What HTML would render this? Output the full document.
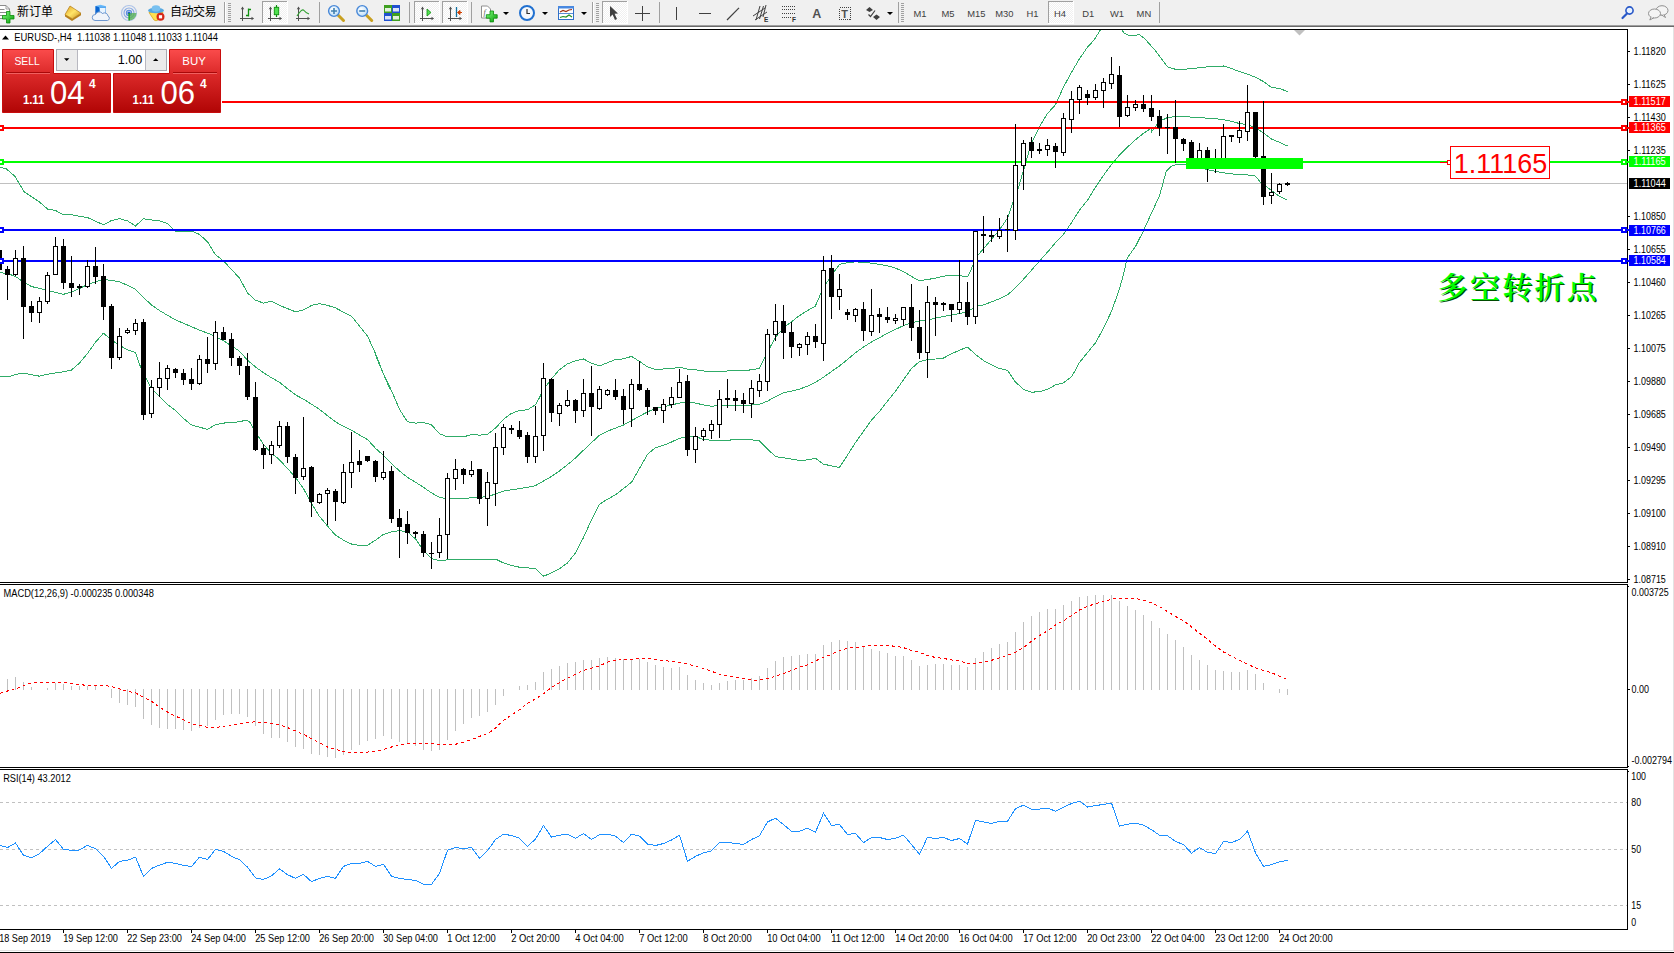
<!DOCTYPE html>
<html><head><meta charset="utf-8"><title>EURUSD H4</title>
<style>
html,body{margin:0;padding:0}
body{width:1674px;height:953px;overflow:hidden;background:#fff;position:relative;font-family:"Liberation Sans","Noto Sans CJK SC",sans-serif}
#tb{position:absolute;left:0;top:0;width:1674px;height:26px;background:#f0f0f0;border-bottom:1px solid #a0a0a0}
</style></head><body>
<svg width="1674" height="29" viewBox="0 0 1674 29" style="position:absolute;left:0;top:0">
<defs><pattern id="chk" width="2" height="2" patternUnits="userSpaceOnUse"><rect width="2" height="2" fill="#f0f0f0"/><rect width="1" height="1" fill="#fff"/><rect x="1" y="1" width="1" height="1" fill="#fff"/></pattern><linearGradient id="gGreen" x1="0" y1="0" x2="1" y2="1"><stop offset="0" stop-color="#7dff7d"/><stop offset="1" stop-color="#0a9a0a"/></linearGradient><linearGradient id="gGold" x1="0" y1="0" x2="1" y2="1"><stop offset="0" stop-color="#e0a020"/><stop offset="0.5" stop-color="#ffe468"/><stop offset="1" stop-color="#c88c18"/></linearGradient><linearGradient id="gBlue" x1="0" y1="0" x2="0" y2="1"><stop offset="0" stop-color="#6fc0ff"/><stop offset="1" stop-color="#1468c8"/></linearGradient><radialGradient id="gLens" cx="0.4" cy="0.35" r="0.7"><stop offset="0" stop-color="#ffffff"/><stop offset="1" stop-color="#b8dcf8"/></radialGradient></defs>
<rect x="0" y="0" width="1674" height="25" fill="#f0f0f0"/>
<rect x="0" y="25" width="1674" height="1" fill="#a0a0a0"/>
<rect x="0" y="26" width="1674" height="1" fill="#696969"/>
<rect x="0" y="27" width="1674" height="2" fill="#fff"/>
<path d="M-2 5.5 h8 l3.5 3.5 v9.5 h-11.5 z" fill="#fff" stroke="#8c8c8c" stroke-width="1"/><path d="M6 5.5 v3.5 h3.5" fill="none" stroke="#8c8c8c" stroke-width="0.8"/>
<path d="M0 9.5 h4.5 M0 12.5 h6.5 M0 15.5 h3" stroke="#8c8c8c" stroke-width="1"/>
<path d="M6.5 11.5 h3.5 v4 h4 v3.5 h-4 v4 h-3.5 v-4 h-4 v-3.5 h4 z" fill="url(#gGreen)" stroke="#0a8a0a" stroke-width="0.8"/>
<text x="17" y="15.5" font-family="Liberation Sans, Noto Sans CJK SC, sans-serif" font-size="12px" fill="#000">新订单</text>
<path d="M65 14.6 L72.3 18.8 L81 13.2 L81 15.2 L72 21 L65 16.6 Z" fill="#b8801c"/>
<path d="M70 6 L81 13.2 L72.3 18.8 L65 14.6 Z" fill="url(#gGold)" stroke="#b07810" stroke-width="0.7"/>
<path d="M95.5 6 l5 -1.2 l5.5 1.4 v9 h-10.5 z" fill="url(#gBlue)"/><path d="M95.5 6 l3.5 1.2 v8 h-3.5 z" fill="#0a64d0"/>
<rect x="100" y="8" width="5.5" height="5" fill="#e8f4ff"/>
<path d="M95 20.5 a3 3 0 0 1 0.5 -6 a4 4 0 0 1 7 -1 a3.5 3.5 0 0 1 5.5 2.5 a2.4 2.4 0 0 1 -0.5 4.5 z" fill="#f0f4fa" stroke="#6f98d0" stroke-width="1"/>
<g fill="none" stroke="#5f8fe0" stroke-width="1.2"><circle cx="129" cy="13" r="7.5" stroke-opacity="0.45"/><circle cx="129" cy="13" r="5" stroke-opacity="0.7"/><circle cx="129" cy="13" r="2.6"/></g>
<path d="M129 13 L136.5 13 A7.5 7.5 0 0 1 129 20.5 Z" fill="#58b058" fill-opacity="0.8"/>
<circle cx="129" cy="13" r="1.6" fill="#2060d0"/><rect x="128.4" y="13" width="1.4" height="7.5" fill="#20a020"/>
<path d="M149 12.5 L163 12.5 L158 20 Q156 21.5 154 20 Z" fill="#ffe050" stroke="#d8a820" stroke-width="0.8"/>
<ellipse cx="156" cy="10.5" rx="8" ry="2.8" fill="#58a8e0"/><ellipse cx="156" cy="8.5" rx="4.3" ry="3.3" fill="#78c0f0"/>
<circle cx="160.5" cy="16.8" r="4" fill="#d82818"/><rect x="158.9" y="15.2" width="3.2" height="3.2" fill="#fff"/>
<text x="170" y="15.5" font-family="Liberation Sans, Noto Sans CJK SC, sans-serif" font-size="12px" fill="#000" letter-spacing="-0.5">自动交易</text>
<rect x="224" y="2" width="1" height="21" fill="#a0a0a0" shape-rendering="crispEdges"/>
<rect x="225" y="2" width="1" height="21" fill="#fff"/>
<rect x="228" y="3" width="3" height="1" fill="#a0a0a0" shape-rendering="crispEdges"/>
<rect x="228" y="5" width="3" height="1" fill="#a0a0a0" shape-rendering="crispEdges"/>
<rect x="228" y="7" width="3" height="1" fill="#a0a0a0" shape-rendering="crispEdges"/>
<rect x="228" y="9" width="3" height="1" fill="#a0a0a0" shape-rendering="crispEdges"/>
<rect x="228" y="11" width="3" height="1" fill="#a0a0a0" shape-rendering="crispEdges"/>
<rect x="228" y="13" width="3" height="1" fill="#a0a0a0" shape-rendering="crispEdges"/>
<rect x="228" y="15" width="3" height="1" fill="#a0a0a0" shape-rendering="crispEdges"/>
<rect x="228" y="17" width="3" height="1" fill="#a0a0a0" shape-rendering="crispEdges"/>
<rect x="228" y="19" width="3" height="1" fill="#a0a0a0" shape-rendering="crispEdges"/>
<rect x="228" y="21" width="3" height="1" fill="#a0a0a0" shape-rendering="crispEdges"/>
<g stroke="#505050" stroke-width="1.05" fill="none"><path d="M242.5 21 V7.5"/><path d="M240.0 18.5 H253.0"/></g>
<path d="M240.8 9.2 L242.5 6.6 L244.2 9.2 Z M251.5 16.8 L254.1 18.5 L251.5 20.2 Z" fill="#505050"/>
<path d="M248.5 8.5 V16.5 M248.5 9.5 h2.5 M246 15.5 h2.5" stroke="#109010" stroke-width="1.3" fill="none"/>
<rect x="262" y="1" width="25" height="22" fill="url(#chk)" shape-rendering="crispEdges"/>
<path d="M262.5 23 V1.5 H287" fill="none" stroke="#a0a0a0" stroke-width="1" shape-rendering="crispEdges"/>
<path d="M287.5 1 V23.5 H262" fill="none" stroke="#fff" stroke-width="1" shape-rendering="crispEdges"/>
<g stroke="#505050" stroke-width="1.05" fill="none"><path d="M270.5 21 V7.5"/><path d="M268.0 18.5 H281.0"/></g>
<path d="M268.8 9.2 L270.5 6.6 L272.2 9.2 Z M279.5 16.8 L282.1 18.5 L279.5 20.2 Z" fill="#505050"/>
<path d="M276.5 5 V17" stroke="#109010" stroke-width="1.2"/><rect x="274.3" y="7.3" width="4.4" height="7.4" fill="#50e050" stroke="#109010" stroke-width="0.9"/>
<g stroke="#505050" stroke-width="1.05" fill="none"><path d="M298.5 21 V7.5"/><path d="M296.0 18.5 H309.0"/></g>
<path d="M296.8 9.2 L298.5 6.6 L300.2 9.2 Z M307.5 16.8 L310.1 18.5 L307.5 20.2 Z" fill="#505050"/>
<path d="M297 16 Q302 8 304 10.5 T309 14" stroke="#30a030" stroke-width="1.2" fill="none"/>
<rect x="319" y="2" width="1" height="21" fill="#a0a0a0" shape-rendering="crispEdges"/>
<path d="M338.0 15 L343.5 20.5" stroke="#c8a020" stroke-width="3" stroke-linecap="round"/>
<circle cx="334.0" cy="11" r="5.4" fill="url(#gLens)" stroke="#4888d8" stroke-width="1.4"/>
<path d="M331.0 11 h6 M334.0 8 v6" stroke="#4080b0" stroke-width="1.6"/>
<path d="M366.2 15 L371.7 20.5" stroke="#c8a020" stroke-width="3" stroke-linecap="round"/>
<circle cx="362.2" cy="11" r="5.4" fill="url(#gLens)" stroke="#4888d8" stroke-width="1.4"/>
<path d="M359.2 11 h6" stroke="#4080b0" stroke-width="1.6"/>
<rect x="384" y="5" width="8" height="8" fill="#40a020"/>
<rect x="385" y="8" width="6" height="3.5" fill="#fff" fill-opacity="0.85"/>
<rect x="392" y="5" width="8" height="8" fill="#2050d0"/>
<rect x="393" y="8" width="6" height="3.5" fill="#fff" fill-opacity="0.85"/>
<rect x="384" y="13" width="8" height="8" fill="#2050d0"/>
<rect x="385" y="16" width="6" height="3.5" fill="#fff" fill-opacity="0.85"/>
<rect x="392" y="13" width="8" height="8" fill="#40a020"/>
<rect x="393" y="16" width="6" height="3.5" fill="#fff" fill-opacity="0.85"/>
<rect x="409" y="2" width="1" height="21" fill="#a0a0a0" shape-rendering="crispEdges"/>
<rect x="414" y="1" width="25" height="22" fill="url(#chk)" shape-rendering="crispEdges"/>
<path d="M414.5 23 V1.5 H439" fill="none" stroke="#a0a0a0" stroke-width="1" shape-rendering="crispEdges"/>
<path d="M439.5 1 V23.5 H414" fill="none" stroke="#fff" stroke-width="1" shape-rendering="crispEdges"/>
<g stroke="#505050" stroke-width="1.05" fill="none"><path d="M422.5 21 V7.5"/><path d="M420.0 18.5 H433.0"/></g>
<path d="M420.8 9.2 L422.5 6.6 L424.2 9.2 Z M431.5 16.8 L434.1 18.5 L431.5 20.2 Z" fill="#505050"/>
<path d="M427 9 L431 12.5 L427 16 Z" fill="#50e050" stroke="#109010" stroke-width="0.8"/>
<rect x="442" y="1" width="25" height="22" fill="url(#chk)" shape-rendering="crispEdges"/>
<path d="M442.5 23 V1.5 H467" fill="none" stroke="#a0a0a0" stroke-width="1" shape-rendering="crispEdges"/>
<path d="M467.5 1 V23.5 H442" fill="none" stroke="#fff" stroke-width="1" shape-rendering="crispEdges"/>
<g stroke="#505050" stroke-width="1.05" fill="none"><path d="M450.5 21 V7.5"/><path d="M448.0 18.5 H461.0"/></g>
<path d="M448.8 9.2 L450.5 6.6 L452.2 9.2 Z M459.5 16.8 L462.1 18.5 L459.5 20.2 Z" fill="#505050"/>
<path d="M456.5 7 V17" stroke="#1070a0" stroke-width="1.3"/><path d="M462 12.5 H458 M460 10.5 L457.5 12.5 L460 14.5 Z" stroke="#d04000" stroke-width="1" fill="#d04000"/>
<rect x="471" y="2" width="1" height="21" fill="#a0a0a0" shape-rendering="crispEdges"/>
<path d="M481.5 6 h6 l3 3 v9 h-9 z" fill="#fff" stroke="#909090" stroke-width="1"/><text x="483.5" y="15" font-family="Liberation Serif, serif" font-style="italic" font-size="8px" fill="#606060">f</text>
<path d="M490 11 h3.5 v3.7 h3.7 v3.5 h-3.7 v3.7 h-3.5 v-3.7 h-3.7 v-3.5 h3.7 z" fill="url(#gGreen)" stroke="#0a8a0a" stroke-width="0.8"/>
<path d="M503 12 h6 l-3 3 z" fill="#000"/>
<circle cx="527" cy="13" r="7" fill="#f4f8fc" stroke="#2070d0" stroke-width="2"/><path d="M527 9 V13.5 H530" stroke="#303030" stroke-width="1.2" fill="none"/>
<path d="M542 12 h6 l-3 3 z" fill="#000"/>
<rect x="558.5" y="6.5" width="15" height="13" fill="#fff" stroke="#3070c8" stroke-width="1"/><rect x="558" y="6" width="16" height="2.5" fill="#4888e0"/><path d="M558 13.5 h16" stroke="#3070c8" stroke-width="0.8"/>
<path d="M560 12 l3 -1.5 l3 1 l3 -1.5 l3 -0.5" stroke="#a03010" stroke-width="1.2" fill="none"/><path d="M560 17.5 l3 -1 l3 0.5 l3 -2 l3 2" stroke="#209020" stroke-width="1.2" fill="none"/>
<path d="M581 12 h6 l-3 3 z" fill="#000"/>
<rect x="592" y="2" width="1" height="21" fill="#a0a0a0" shape-rendering="crispEdges"/>
<rect x="593" y="2" width="1" height="21" fill="#fff"/>
<rect x="596" y="3" width="3" height="1" fill="#a0a0a0" shape-rendering="crispEdges"/>
<rect x="596" y="5" width="3" height="1" fill="#a0a0a0" shape-rendering="crispEdges"/>
<rect x="596" y="7" width="3" height="1" fill="#a0a0a0" shape-rendering="crispEdges"/>
<rect x="596" y="9" width="3" height="1" fill="#a0a0a0" shape-rendering="crispEdges"/>
<rect x="596" y="11" width="3" height="1" fill="#a0a0a0" shape-rendering="crispEdges"/>
<rect x="596" y="13" width="3" height="1" fill="#a0a0a0" shape-rendering="crispEdges"/>
<rect x="596" y="15" width="3" height="1" fill="#a0a0a0" shape-rendering="crispEdges"/>
<rect x="596" y="17" width="3" height="1" fill="#a0a0a0" shape-rendering="crispEdges"/>
<rect x="596" y="19" width="3" height="1" fill="#a0a0a0" shape-rendering="crispEdges"/>
<rect x="596" y="21" width="3" height="1" fill="#a0a0a0" shape-rendering="crispEdges"/>
<rect x="602" y="1" width="25" height="22" fill="url(#chk)" shape-rendering="crispEdges"/>
<path d="M602.5 23 V1.5 H627" fill="none" stroke="#a0a0a0" stroke-width="1" shape-rendering="crispEdges"/>
<path d="M627.5 1 V23.5 H602" fill="none" stroke="#fff" stroke-width="1" shape-rendering="crispEdges"/>
<path d="M610 6 L610 17 L612.6 14.6 L615 20 L617 19 L614.6 13.8 L618 13.6 Z" fill="#404040"/>
<path d="M635 13.5 H650 M642.5 6 V21" stroke="#404040" stroke-width="1.1" fill="none" shape-rendering="crispEdges"/>
<rect x="659" y="2" width="1" height="21" fill="#a0a0a0" shape-rendering="crispEdges"/>
<path d="M676.5 7 V20" stroke="#404040" stroke-width="1.2" shape-rendering="crispEdges"/>
<path d="M699 13.5 H711" stroke="#404040" stroke-width="1.2" shape-rendering="crispEdges"/>
<path d="M727 20 L739 7.8" stroke="#404040" stroke-width="1.2"/>
<g stroke="#404040" stroke-width="1" fill="none"><path d="M753 16 L765 8 M755 20 L767 12"/><path d="M756 20 L760 6 M759.5 19 L763.5 6 M763 17 L766 5"/></g>
<text x="764" y="22" font-family="Liberation Sans, sans-serif" font-weight="bold" font-size="6.5px" fill="#303030">E</text>
<path d="M782 6.5 H795.0" stroke="#404040" stroke-width="1" stroke-dasharray="1 1" shape-rendering="crispEdges"/>
<path d="M782 9.5 H795.0" stroke="#404040" stroke-width="1" stroke-dasharray="1 1" shape-rendering="crispEdges"/>
<path d="M782 13.5 H795.0" stroke="#404040" stroke-width="1" stroke-dasharray="1 1" shape-rendering="crispEdges"/>
<path d="M782 17.5 H791.0" stroke="#404040" stroke-width="1" stroke-dasharray="1 1" shape-rendering="crispEdges"/>
<text x="792" y="22" font-family="Liberation Sans, sans-serif" font-weight="bold" font-size="6.5px" fill="#303030">F</text>
<text x="812.3" y="18" font-family="Liberation Sans, sans-serif" font-weight="bold" font-size="12.5px" fill="#505050">A</text>
<rect x="839.5" y="7.5" width="11" height="12" fill="none" stroke="#404040" stroke-width="1" stroke-dasharray="1 1" shape-rendering="crispEdges"/>
<text x="841.2" y="18" font-family="Liberation Sans, sans-serif" font-weight="bold" font-size="11px" fill="#505050">T</text>
<path d="M866 10 L869.5 7 L873 10 L869.5 12 Z M873 17 L876.5 14.5 L880 17 L876.5 20 Z" fill="#404040"/><path d="M868.5 14.5 L870.5 16.5 L875 10.5" stroke="#404040" stroke-width="1.2" fill="none"/>
<path d="M887 12 h6 l-3 3 z" fill="#000"/>
<rect x="898" y="2" width="1" height="21" fill="#a0a0a0" shape-rendering="crispEdges"/>
<rect x="901" y="3" width="3" height="1" fill="#a0a0a0" shape-rendering="crispEdges"/>
<rect x="901" y="5" width="3" height="1" fill="#a0a0a0" shape-rendering="crispEdges"/>
<rect x="901" y="7" width="3" height="1" fill="#a0a0a0" shape-rendering="crispEdges"/>
<rect x="901" y="9" width="3" height="1" fill="#a0a0a0" shape-rendering="crispEdges"/>
<rect x="901" y="11" width="3" height="1" fill="#a0a0a0" shape-rendering="crispEdges"/>
<rect x="901" y="13" width="3" height="1" fill="#a0a0a0" shape-rendering="crispEdges"/>
<rect x="901" y="15" width="3" height="1" fill="#a0a0a0" shape-rendering="crispEdges"/>
<rect x="901" y="17" width="3" height="1" fill="#a0a0a0" shape-rendering="crispEdges"/>
<rect x="901" y="19" width="3" height="1" fill="#a0a0a0" shape-rendering="crispEdges"/>
<rect x="901" y="21" width="3" height="1" fill="#a0a0a0" shape-rendering="crispEdges"/>
<rect x="1048" y="1" width="25" height="22" fill="url(#chk)" shape-rendering="crispEdges"/>
<path d="M1048.5 23 V1.5 H1073" fill="none" stroke="#a0a0a0" stroke-width="1" shape-rendering="crispEdges"/>
<path d="M1073.5 1 V23.5 H1048" fill="none" stroke="#fff" stroke-width="1" shape-rendering="crispEdges"/>
<text x="919.9" y="16.7" text-anchor="middle" font-family="Liberation Sans, sans-serif" font-size="9.4px" fill="#404040">M1</text>
<text x="948.0" y="16.7" text-anchor="middle" font-family="Liberation Sans, sans-serif" font-size="9.4px" fill="#404040">M5</text>
<text x="976.3" y="16.7" text-anchor="middle" font-family="Liberation Sans, sans-serif" font-size="9.4px" fill="#404040">M15</text>
<text x="1004.4" y="16.7" text-anchor="middle" font-family="Liberation Sans, sans-serif" font-size="9.4px" fill="#404040">M30</text>
<text x="1032.5" y="16.7" text-anchor="middle" font-family="Liberation Sans, sans-serif" font-size="9.4px" fill="#404040">H1</text>
<text x="1060.0" y="16.7" text-anchor="middle" font-family="Liberation Sans, sans-serif" font-size="9.4px" fill="#404040">H4</text>
<text x="1088.3" y="16.7" text-anchor="middle" font-family="Liberation Sans, sans-serif" font-size="9.4px" fill="#404040">D1</text>
<text x="1117.0" y="16.7" text-anchor="middle" font-family="Liberation Sans, sans-serif" font-size="9.4px" fill="#404040">W1</text>
<text x="1143.9" y="16.7" text-anchor="middle" font-family="Liberation Sans, sans-serif" font-size="9.4px" fill="#404040">MN</text>
<rect x="1159" y="2" width="1" height="21" fill="#a0a0a0" shape-rendering="crispEdges"/>
<circle cx="1629.5" cy="10.5" r="3.6" fill="#e8f2ff" stroke="#2858c8" stroke-width="1.6"/><path d="M1627 13.5 L1622.5 18" stroke="#2858c8" stroke-width="2.2" stroke-linecap="round"/>
<g fill="#f4f4f4" stroke="#909090" stroke-width="1"><ellipse cx="1662" cy="10.5" rx="6" ry="4.8"/><path d="M1664 14.5 l1.5 3 l-4 -2.6" /><ellipse cx="1654.5" cy="13.5" rx="6" ry="4.5"/><path d="M1651 17 l-1.2 3 l4.2 -2.3"/></g>
</svg>
<svg width="1674" height="953" viewBox="0 0 1674 953" style="position:absolute;left:0;top:0" shape-rendering="crispEdges">
<rect x="0" y="29" width="1628" height="1" fill="#000"/>
<rect x="1627" y="29" width="1" height="901" fill="#000"/>
<rect x="0" y="582" width="1628" height="1" fill="#000"/>
<rect x="0" y="584" width="1628" height="1" fill="#000"/>
<rect x="0" y="767" width="1628" height="1" fill="#000"/>
<rect x="0" y="769" width="1628" height="1" fill="#000"/>
<rect x="1627" y="583" width="1" height="1" fill="#fff"/><rect x="1627" y="768" width="1" height="1" fill="#fff"/>
<rect x="1628" y="586" width="1" height="1" fill="#000"/><rect x="1628" y="766" width="1" height="1" fill="#000"/><rect x="1628" y="771" width="1" height="1" fill="#000"/>
<rect x="0" y="929" width="1628" height="1" fill="#000"/>
<rect x="0" y="950" width="1674" height="1" fill="#e3e3e3"/>
<rect x="0" y="952" width="1674" height="1" fill="#000"/>
<rect x="1673" y="27" width="1" height="924" fill="#e3e3e3"/>
<clipPath id="cm"><rect x="0" y="30" width="1627" height="552"/></clipPath>
<g clip-path="url(#cm)">
<rect x="0" y="183" width="1627" height="1" fill="#c0c0c0"/>
<polyline fill="none" stroke="#30ac68" stroke-width="1"  points="0.0,167.1 6.3,168.9 15.1,176.4 23.9,191.5 31.5,196.6 39.5,202.1 47.8,209.2 55.4,210.4 63.5,215.0 71.8,214.7 79.3,216.2 87.4,217.5 95.7,221.3 103.7,224.8 111.5,220.5 119.6,218.7 127.7,221.0 135.5,226.0 143.5,218.7 151.6,220.0 159.6,221.0 167.4,223.5 175.5,231.1 183.8,231.1 191.4,231.1 199.4,234.4 207.7,241.9 215.3,254.5 223.3,260.8 231.7,269.6 239.7,278.4 247.5,293.0 255.6,300.3 263.6,303.1 271.7,301.1 279.5,305.4 287.6,308.6 295.6,311.9 303.7,309.9 311.5,305.4 319.5,303.6 327.6,305.4 335.6,307.9 343.7,312.4 351.5,316.2 359.6,326.3 367.6,336.3 375.7,354.0 383.5,374.1 390.3,390.0 375.5,355.1 383.4,374.0 391.4,390.4 399.5,409.3 407.5,421.8 415.6,423.1 423.4,422.4 431.5,424.9 439.5,433.7 447.6,437.0 455.4,436.5 463.4,437.0 471.6,434.4 479.4,435.2 487.4,434.4 495.5,428.1 503.5,419.3 511.3,413.5 519.4,410.5 527.5,409.8 535.5,404.7 539.6,397.4 543.6,389.1 551.4,379.0 559.4,369.7 567.5,363.9 575.6,360.7 583.4,358.9 591.4,363.2 599.5,365.9 607.5,362.7 615.4,359.6 623.4,358.9 631.5,356.4 639.5,361.4 647.6,366.9 655.4,369.5 663.5,369.0 671.5,368.5 679.6,367.2 687.4,369.0 695.4,369.7 703.6,371.0 711.4,371.5 719.4,371.5 727.5,371.0 735.5,370.5 743.3,371.0 751.4,369.7 759.5,368.4 767.5,352.1 775.6,337.0 783.4,328.1 791.4,321.8 799.5,315.6 807.6,310.5 815.4,306.0 819.4,296.7 823.4,287.8 831.5,275.3 839.5,264.4 847.4,262.7 855.4,261.9 863.5,262.2 871.5,263.2 879.6,264.4 887.4,265.7 895.5,268.2 903.5,271.5 911.6,276.5 919.4,280.8 927.4,279.5 935.6,278.2 943.5,276.1 951.5,275.7 959.5,275.7 967.5,276.7 971.0,269.8 975.5,258.2 983.4,248.8 991.4,239.3 999.4,229.9 1007.4,218.3 1013.0,202.6 1015.6,197.5 1023.5,170.2 1031.5,142.9 1039.5,126.7 1047.5,113.5 1055.5,104.7 1063.4,87.2 1071.4,72.5 1079.4,58.9 1087.4,47.3 1094.1,40.0 1101.0,29.0"/>
<polyline fill="none" stroke="#30ac68" stroke-width="1"  points="1121.5,29.0 1124.0,33.0 1130.0,36.0 1139.6,34.7 1145.0,39.0 1149.0,43.6 1155.0,50.0 1159.5,56.0 1167.4,66.8 1175.4,69.3 1183.6,69.3 1191.6,68.5 1199.6,67.8 1207.5,66.8 1215.5,66.2 1223.5,66.0 1231.5,68.5 1239.4,71.6 1247.4,74.1 1255.4,77.3 1263.4,81.5 1271.6,87.4 1279.6,88.4 1287.5,91.6"/>
<polyline fill="none" stroke="#30ac68" stroke-width="1"  points="0.0,272.6 7.6,273.5 15.5,276.5 23.3,281.8 31.4,286.5 47.5,290.4 63.5,294.3 71.5,292.0 79.4,288.5 87.5,284.6 95.5,281.8 103.4,279.5 111.5,280.5 119.3,281.6 127.4,285.3 135.5,289.2 143.3,297.3 151.4,304.9 159.5,310.5 167.5,315.3 175.4,319.7 183.5,323.4 191.3,326.6 199.4,330.1 207.5,333.1 215.5,336.5 223.4,340.7 231.5,345.8 239.6,351.3 247.4,360.1 255.4,366.9 263.5,372.7 271.5,377.8 279.3,382.1 287.4,388.6 295.5,394.9 303.5,399.2 311.6,404.2 319.4,409.3 327.4,415.6 335.5,421.8 343.6,426.4 351.4,430.2 359.4,434.9 367.5,439.5 375.5,448.3 383.4,455.3 391.4,463.4 399.5,471.0 407.5,477.3 415.6,482.3 423.4,487.3 431.5,492.9 439.5,497.4 447.6,498.7 455.4,498.7 463.4,498.2 471.6,497.9 479.4,497.4 487.4,496.6 495.5,494.1 503.5,491.1 511.3,489.8 519.4,488.6 527.5,487.3 535.5,485.6 543.6,481.0 551.4,476.5 559.4,471.0 567.5,464.7 575.6,457.9 583.4,450.3 591.4,442.8 599.5,435.2 607.5,431.2 615.4,428.1 623.4,425.1 631.5,420.6 639.5,416.3 647.6,411.8 655.4,408.5 663.5,406.7 671.5,405.0 679.6,403.0 687.4,402.2 695.4,403.0 703.6,405.0 711.4,406.2 719.4,405.5 727.5,405.0 735.5,405.0 743.3,405.0 751.4,405.0 759.5,404.2 767.5,401.2 775.6,396.6 783.4,392.9 791.4,391.1 799.5,389.1 807.6,386.1 815.4,382.3 823.4,377.3 831.5,371.5 839.5,365.9 847.4,359.6 855.4,352.8 863.5,347.0 871.5,342.0 879.6,337.7 887.4,333.2 895.5,329.4 903.5,325.6 911.6,322.6 919.4,321.1 927.4,320.1 935.6,318.1 943.5,316.6 951.5,314.9 959.5,313.5 967.5,311.8 975.5,306.5 983.4,304.9 991.4,301.9 999.4,298.8 1007.4,295.0 1015.6,287.6 1023.5,279.2 1031.5,270.2 1039.5,261.0 1047.7,251.9 1055.7,242.5 1063.6,234.1 1071.6,222.5 1079.6,209.9 1087.6,200.1 1095.6,187.0 1103.5,175.4 1111.5,164.5 1119.5,155.1 1127.5,147.1 1135.5,139.7 1143.4,133.4 1151.4,128.2 1151.5,131.9 1159.4,121.4 1167.4,117.6 1175.4,116.6 1183.6,116.1 1191.6,117.2 1199.6,117.6 1207.5,118.2 1215.5,118.7 1223.5,119.7 1231.5,121.4 1239.4,123.5 1247.4,124.5 1255.4,127.7 1263.4,132.9 1271.6,139.2 1279.6,142.4 1287.5,146.0"/>
<polyline fill="none" stroke="#30ac68" stroke-width="1"  points="0.0,376.5 7.6,376.9 15.5,374.6 23.3,373.0 31.4,374.6 39.5,376.2 47.5,374.2 55.4,373.0 63.5,371.8 71.5,370.0 79.4,363.1 87.5,353.4 95.5,342.3 103.4,333.1 111.5,340.0 119.3,345.3 127.4,349.7 135.5,352.7 140.8,367.7 147.7,381.5 151.4,388.5 159.5,396.5 167.5,404.6 175.4,410.4 183.5,418.5 191.3,424.9 199.4,427.2 207.5,429.3 215.5,424.7 223.4,423.1 231.5,422.4 239.6,421.8 245.9,420.1 249.6,421.8 255.4,431.9 263.5,444.5 271.5,453.3 279.3,459.6 287.4,468.4 295.5,477.3 303.5,488.6 311.6,503.7 319.4,516.3 327.4,525.9 335.5,535.2 343.6,540.2 351.4,544.0 359.4,545.5 367.5,545.2 375.5,540.2 383.4,534.4 391.4,531.9 399.5,530.6 407.5,531.9 415.6,539.0 423.4,550.3 431.5,558.6 439.5,560.6 447.6,559.9 455.4,559.6 463.4,559.4 471.6,559.1 479.4,559.1 487.4,559.1 495.5,559.1 503.5,562.9 511.3,565.4 519.4,567.2 527.5,567.9 535.5,568.7 543.6,576.2 551.4,573.0 559.4,568.7 567.5,562.9 575.6,552.8 583.4,537.7 591.4,520.1 599.5,504.2 607.5,499.2 615.4,494.9 623.4,488.6 631.5,482.3 639.5,468.4 647.6,454.1 655.4,447.8 663.5,445.3 671.5,442.0 679.6,438.2 687.4,437.0 695.4,436.5 703.6,439.5 711.4,440.2 719.4,440.2 727.5,440.2 735.5,439.7 743.3,439.5 751.4,439.7 759.5,441.0 767.5,449.0 775.6,456.6 783.4,457.8 791.4,459.1 799.5,460.4 807.6,459.9 815.4,458.3 823.4,464.1 831.5,465.9 839.5,467.4 847.4,455.3 855.4,442.7 863.5,431.4 871.5,420.1 879.6,411.3 887.4,401.2 895.5,391.1 903.5,379.8 911.6,368.4 919.4,361.6 927.4,359.6 935.6,359.0 943.5,358.0 951.5,353.8 959.5,350.2 967.5,347.1 975.5,354.4 983.4,360.5 991.4,364.7 999.4,368.5 1000.0,368.6 1007.6,370.3 1015.1,381.7 1023.9,389.7 1031.5,392.2 1039.5,391.7 1047.9,389.2 1055.4,384.9 1063.5,382.9 1071.8,376.6 1079.3,362.8 1087.4,352.7 1095.7,342.6 1103.8,327.5 1111.6,311.1 1119.6,288.5 1123.4,274.6 1127.2,258.2 1136.0,245.6 1143.6,230.5 1151.6,212.9 1159.7,195.3 1166.2,171.3 1171.3,166.3 1176.3,164.5 1186.4,164.3 1191.6,165.1 1199.6,167.6 1207.5,169.7 1215.5,171.4 1223.5,172.8 1231.5,173.9 1239.4,174.5 1247.4,174.9 1255.4,176.0 1261.3,183.3 1263.4,184.4 1271.6,190.7 1279.6,196.4 1287.5,200.1"/>
<rect x="222" y="101" width="1405" height="2" fill="#ff0000"/>
<rect x="0" y="127" width="1627" height="2" fill="#ff0000"/>
<rect x="0" y="161" width="1627" height="2" fill="#00ff00"/>
<rect x="0" y="229" width="1627" height="2" fill="#0000ff"/>
<rect x="0" y="260" width="1627" height="2" fill="#0000ff"/>
<rect x="-1" y="250" width="1" height="20" fill="#000"/>
<rect x="-3" y="250" width="5" height="20" fill="#000"/>
<rect x="7" y="266" width="1" height="34" fill="#000"/>
<rect x="5" y="269" width="5" height="6" fill="#000"/>
<rect x="15" y="250" width="1" height="26" fill="#000"/>
<rect x="13.5" y="258.5" width="4" height="16" fill="#fff" stroke="#000" stroke-width="1"/>
<rect x="23" y="246" width="1" height="93" fill="#000"/>
<rect x="21" y="258" width="5" height="49" fill="#000"/>
<rect x="31" y="301" width="1" height="21" fill="#000"/>
<rect x="29" y="306" width="5" height="7" fill="#000"/>
<rect x="39" y="297" width="1" height="26" fill="#000"/>
<rect x="37.5" y="301.5" width="4" height="11" fill="#fff" stroke="#000" stroke-width="1"/>
<rect x="47" y="272" width="1" height="32" fill="#000"/>
<rect x="45.5" y="275.5" width="4" height="26" fill="#fff" stroke="#000" stroke-width="1"/>
<rect x="55" y="237" width="1" height="38" fill="#000"/>
<rect x="53.5" y="246.5" width="4" height="28" fill="#fff" stroke="#000" stroke-width="1"/>
<rect x="63" y="239" width="1" height="50" fill="#000"/>
<rect x="61" y="246" width="5" height="37" fill="#000"/>
<rect x="71" y="256" width="1" height="41" fill="#000"/>
<rect x="69" y="283" width="5" height="5" fill="#000"/>
<rect x="79" y="284" width="1" height="11" fill="#000"/>
<rect x="77" y="286" width="5" height="2" fill="#000"/>
<rect x="87" y="260" width="1" height="28" fill="#000"/>
<rect x="85.5" y="266.5" width="4" height="20" fill="#fff" stroke="#000" stroke-width="1"/>
<rect x="95" y="247" width="1" height="37" fill="#000"/>
<rect x="93" y="266" width="5" height="11" fill="#000"/>
<rect x="103" y="264" width="1" height="56" fill="#000"/>
<rect x="101" y="276" width="5" height="31" fill="#000"/>
<rect x="111" y="304" width="1" height="65" fill="#000"/>
<rect x="109" y="306" width="5" height="52" fill="#000"/>
<rect x="119" y="328" width="1" height="32" fill="#000"/>
<rect x="117.5" y="336.5" width="4" height="21" fill="#fff" stroke="#000" stroke-width="1"/>
<rect x="127" y="328" width="1" height="6" fill="#000"/>
<rect x="125.5" y="330.5" width="4" height="2" fill="#fff" stroke="#000" stroke-width="1"/>
<rect x="135" y="319" width="1" height="16" fill="#000"/>
<rect x="133.5" y="323.5" width="4" height="7" fill="#fff" stroke="#000" stroke-width="1"/>
<rect x="143" y="319" width="1" height="101" fill="#000"/>
<rect x="141" y="322" width="5" height="93" fill="#000"/>
<rect x="151" y="380" width="1" height="38" fill="#000"/>
<rect x="149.5" y="387.5" width="4" height="26" fill="#fff" stroke="#000" stroke-width="1"/>
<rect x="159" y="362" width="1" height="35" fill="#000"/>
<rect x="157.5" y="378.5" width="4" height="9" fill="#fff" stroke="#000" stroke-width="1"/>
<rect x="167" y="365" width="1" height="25" fill="#000"/>
<rect x="165.5" y="368.5" width="4" height="10" fill="#fff" stroke="#000" stroke-width="1"/>
<rect x="175" y="368" width="1" height="10" fill="#000"/>
<rect x="173" y="369" width="5" height="4" fill="#000"/>
<rect x="183" y="369" width="1" height="16" fill="#000"/>
<rect x="181" y="373" width="5" height="7" fill="#000"/>
<rect x="191" y="368" width="1" height="22" fill="#000"/>
<rect x="189" y="379" width="5" height="5" fill="#000"/>
<rect x="199" y="355" width="1" height="30" fill="#000"/>
<rect x="197.5" y="359.5" width="4" height="24" fill="#fff" stroke="#000" stroke-width="1"/>
<rect x="207" y="337" width="1" height="36" fill="#000"/>
<rect x="205" y="359" width="5" height="5" fill="#000"/>
<rect x="215" y="321" width="1" height="49" fill="#000"/>
<rect x="213.5" y="332.5" width="4" height="31" fill="#fff" stroke="#000" stroke-width="1"/>
<rect x="223" y="327" width="1" height="13" fill="#000"/>
<rect x="221" y="332" width="5" height="8" fill="#000"/>
<rect x="231" y="333" width="1" height="33" fill="#000"/>
<rect x="229" y="339" width="5" height="19" fill="#000"/>
<rect x="239" y="356" width="1" height="19" fill="#000"/>
<rect x="237" y="358" width="5" height="8" fill="#000"/>
<rect x="247" y="353" width="1" height="47" fill="#000"/>
<rect x="245" y="366" width="5" height="31" fill="#000"/>
<rect x="255" y="382" width="1" height="69" fill="#000"/>
<rect x="253" y="397" width="5" height="53" fill="#000"/>
<rect x="263" y="444" width="1" height="25" fill="#000"/>
<rect x="261" y="448" width="5" height="7" fill="#000"/>
<rect x="271" y="441" width="1" height="23" fill="#000"/>
<rect x="269.5" y="445.5" width="4" height="9" fill="#fff" stroke="#000" stroke-width="1"/>
<rect x="279" y="421" width="1" height="27" fill="#000"/>
<rect x="277.5" y="426.5" width="4" height="19" fill="#fff" stroke="#000" stroke-width="1"/>
<rect x="287" y="422" width="1" height="41" fill="#000"/>
<rect x="285" y="426" width="5" height="31" fill="#000"/>
<rect x="295" y="454" width="1" height="40" fill="#000"/>
<rect x="293" y="457" width="5" height="21" fill="#000"/>
<rect x="303" y="417" width="1" height="63" fill="#000"/>
<rect x="301.5" y="468.5" width="4" height="8" fill="#fff" stroke="#000" stroke-width="1"/>
<rect x="311" y="466" width="1" height="51" fill="#000"/>
<rect x="309" y="467" width="5" height="35" fill="#000"/>
<rect x="319" y="493" width="1" height="11" fill="#000"/>
<rect x="317.5" y="494.5" width="4" height="8" fill="#fff" stroke="#000" stroke-width="1"/>
<rect x="327" y="488" width="1" height="37" fill="#000"/>
<rect x="325.5" y="490.5" width="4" height="3" fill="#fff" stroke="#000" stroke-width="1"/>
<rect x="335" y="489" width="1" height="32" fill="#000"/>
<rect x="333" y="491" width="5" height="11" fill="#000"/>
<rect x="343" y="464" width="1" height="40" fill="#000"/>
<rect x="341.5" y="472.5" width="4" height="30" fill="#fff" stroke="#000" stroke-width="1"/>
<rect x="351" y="432" width="1" height="56" fill="#000"/>
<rect x="349.5" y="462.5" width="4" height="10" fill="#fff" stroke="#000" stroke-width="1"/>
<rect x="359" y="450" width="1" height="22" fill="#000"/>
<rect x="357" y="461" width="5" height="4" fill="#000"/>
<rect x="367" y="456" width="1" height="6" fill="#000"/>
<rect x="365" y="456" width="5" height="5" fill="#000"/>
<rect x="375" y="460" width="1" height="22" fill="#000"/>
<rect x="373" y="461" width="5" height="16" fill="#000"/>
<rect x="383" y="451" width="1" height="29" fill="#000"/>
<rect x="381.5" y="472.5" width="4" height="5" fill="#fff" stroke="#000" stroke-width="1"/>
<rect x="391" y="466" width="1" height="57" fill="#000"/>
<rect x="389" y="471" width="5" height="48" fill="#000"/>
<rect x="399" y="509" width="1" height="49" fill="#000"/>
<rect x="397" y="518" width="5" height="9" fill="#000"/>
<rect x="407" y="511" width="1" height="33" fill="#000"/>
<rect x="405" y="524" width="5" height="9" fill="#000"/>
<rect x="415" y="531" width="1" height="7" fill="#000"/>
<rect x="413" y="532" width="5" height="2" fill="#000"/>
<rect x="423" y="531" width="1" height="26" fill="#000"/>
<rect x="421" y="534" width="5" height="19" fill="#000"/>
<rect x="431" y="542" width="1" height="27" fill="#000"/>
<rect x="429" y="553" width="5" height="1" fill="#000"/>
<rect x="439" y="518" width="1" height="40" fill="#000"/>
<rect x="437.5" y="535.5" width="4" height="17" fill="#fff" stroke="#000" stroke-width="1"/>
<rect x="447" y="473" width="1" height="86" fill="#000"/>
<rect x="445.5" y="478.5" width="4" height="56" fill="#fff" stroke="#000" stroke-width="1"/>
<rect x="455" y="459" width="1" height="31" fill="#000"/>
<rect x="453.5" y="469.5" width="4" height="9" fill="#fff" stroke="#000" stroke-width="1"/>
<rect x="463" y="468" width="1" height="16" fill="#000"/>
<rect x="461" y="469" width="5" height="6" fill="#000"/>
<rect x="471" y="461" width="1" height="16" fill="#000"/>
<rect x="469.5" y="470.5" width="4" height="4" fill="#fff" stroke="#000" stroke-width="1"/>
<rect x="479" y="469" width="1" height="35" fill="#000"/>
<rect x="477" y="469" width="5" height="30" fill="#000"/>
<rect x="487" y="472" width="1" height="54" fill="#000"/>
<rect x="485.5" y="482.5" width="4" height="16" fill="#fff" stroke="#000" stroke-width="1"/>
<rect x="495" y="433" width="1" height="73" fill="#000"/>
<rect x="493.5" y="447.5" width="4" height="36" fill="#fff" stroke="#000" stroke-width="1"/>
<rect x="503" y="424" width="1" height="31" fill="#000"/>
<rect x="501.5" y="427.5" width="4" height="20" fill="#fff" stroke="#000" stroke-width="1"/>
<rect x="511" y="425" width="1" height="9" fill="#000"/>
<rect x="509" y="428" width="5" height="2" fill="#000"/>
<rect x="519" y="421" width="1" height="18" fill="#000"/>
<rect x="517" y="430" width="5" height="7" fill="#000"/>
<rect x="527" y="432" width="1" height="31" fill="#000"/>
<rect x="525" y="435" width="5" height="22" fill="#000"/>
<rect x="535" y="406" width="1" height="57" fill="#000"/>
<rect x="533.5" y="436.5" width="4" height="20" fill="#fff" stroke="#000" stroke-width="1"/>
<rect x="543" y="363" width="1" height="88" fill="#000"/>
<rect x="541.5" y="378.5" width="4" height="57" fill="#fff" stroke="#000" stroke-width="1"/>
<rect x="551" y="378" width="1" height="44" fill="#000"/>
<rect x="549" y="379" width="5" height="34" fill="#000"/>
<rect x="559" y="403" width="1" height="23" fill="#000"/>
<rect x="557.5" y="405.5" width="4" height="8" fill="#fff" stroke="#000" stroke-width="1"/>
<rect x="567" y="390" width="1" height="17" fill="#000"/>
<rect x="565.5" y="400.5" width="4" height="5" fill="#fff" stroke="#000" stroke-width="1"/>
<rect x="575" y="399" width="1" height="24" fill="#000"/>
<rect x="573" y="400" width="5" height="11" fill="#000"/>
<rect x="583" y="379" width="1" height="38" fill="#000"/>
<rect x="581.5" y="393.5" width="4" height="17" fill="#fff" stroke="#000" stroke-width="1"/>
<rect x="591" y="366" width="1" height="70" fill="#000"/>
<rect x="589" y="393" width="5" height="14" fill="#000"/>
<rect x="599" y="386" width="1" height="24" fill="#000"/>
<rect x="597.5" y="389.5" width="4" height="19" fill="#fff" stroke="#000" stroke-width="1"/>
<rect x="607" y="389" width="1" height="7" fill="#000"/>
<rect x="605.5" y="390.5" width="4" height="4" fill="#fff" stroke="#000" stroke-width="1"/>
<rect x="615" y="379" width="1" height="21" fill="#000"/>
<rect x="613" y="390" width="5" height="7" fill="#000"/>
<rect x="623" y="389" width="1" height="35" fill="#000"/>
<rect x="621" y="396" width="5" height="14" fill="#000"/>
<rect x="631" y="379" width="1" height="48" fill="#000"/>
<rect x="629.5" y="384.5" width="4" height="24" fill="#fff" stroke="#000" stroke-width="1"/>
<rect x="639" y="361" width="1" height="30" fill="#000"/>
<rect x="637" y="384" width="5" height="6" fill="#000"/>
<rect x="647" y="388" width="1" height="27" fill="#000"/>
<rect x="645" y="390" width="5" height="17" fill="#000"/>
<rect x="655" y="407" width="1" height="8" fill="#000"/>
<rect x="653" y="407" width="5" height="4" fill="#000"/>
<rect x="663" y="399" width="1" height="24" fill="#000"/>
<rect x="661.5" y="404.5" width="4" height="6" fill="#fff" stroke="#000" stroke-width="1"/>
<rect x="671" y="387" width="1" height="21" fill="#000"/>
<rect x="669.5" y="397.5" width="4" height="7" fill="#fff" stroke="#000" stroke-width="1"/>
<rect x="679" y="369" width="1" height="29" fill="#000"/>
<rect x="677.5" y="382.5" width="4" height="15" fill="#fff" stroke="#000" stroke-width="1"/>
<rect x="687" y="375" width="1" height="81" fill="#000"/>
<rect x="685" y="381" width="5" height="69" fill="#000"/>
<rect x="695" y="427" width="1" height="36" fill="#000"/>
<rect x="693.5" y="436.5" width="4" height="13" fill="#fff" stroke="#000" stroke-width="1"/>
<rect x="703" y="428" width="1" height="13" fill="#000"/>
<rect x="701.5" y="430.5" width="4" height="6" fill="#fff" stroke="#000" stroke-width="1"/>
<rect x="711" y="420" width="1" height="19" fill="#000"/>
<rect x="709.5" y="424.5" width="4" height="6" fill="#fff" stroke="#000" stroke-width="1"/>
<rect x="719" y="390" width="1" height="48" fill="#000"/>
<rect x="717.5" y="399.5" width="4" height="25" fill="#fff" stroke="#000" stroke-width="1"/>
<rect x="727" y="379" width="1" height="29" fill="#000"/>
<rect x="725" y="398" width="5" height="2" fill="#000"/>
<rect x="735" y="390" width="1" height="21" fill="#000"/>
<rect x="733" y="398" width="5" height="3" fill="#000"/>
<rect x="743" y="393" width="1" height="20" fill="#000"/>
<rect x="741" y="400" width="5" height="4" fill="#000"/>
<rect x="751" y="380" width="1" height="38" fill="#000"/>
<rect x="749.5" y="388.5" width="4" height="15" fill="#fff" stroke="#000" stroke-width="1"/>
<rect x="759" y="374" width="1" height="23" fill="#000"/>
<rect x="757.5" y="381.5" width="4" height="9" fill="#fff" stroke="#000" stroke-width="1"/>
<rect x="767" y="329" width="1" height="62" fill="#000"/>
<rect x="765.5" y="334.5" width="4" height="47" fill="#fff" stroke="#000" stroke-width="1"/>
<rect x="775" y="304" width="1" height="37" fill="#000"/>
<rect x="773.5" y="321.5" width="4" height="13" fill="#fff" stroke="#000" stroke-width="1"/>
<rect x="783" y="305" width="1" height="54" fill="#000"/>
<rect x="781" y="321" width="5" height="12" fill="#000"/>
<rect x="791" y="322" width="1" height="36" fill="#000"/>
<rect x="789" y="332" width="5" height="15" fill="#000"/>
<rect x="799" y="343" width="1" height="13" fill="#000"/>
<rect x="797.5" y="344.5" width="4" height="3" fill="#fff" stroke="#000" stroke-width="1"/>
<rect x="807" y="332" width="1" height="23" fill="#000"/>
<rect x="805.5" y="336.5" width="4" height="8" fill="#fff" stroke="#000" stroke-width="1"/>
<rect x="815" y="324" width="1" height="24" fill="#000"/>
<rect x="813" y="336" width="5" height="6" fill="#000"/>
<rect x="823" y="256" width="1" height="105" fill="#000"/>
<rect x="821.5" y="270.5" width="4" height="73" fill="#fff" stroke="#000" stroke-width="1"/>
<rect x="831" y="255" width="1" height="64" fill="#000"/>
<rect x="829" y="268" width="5" height="29" fill="#000"/>
<rect x="839" y="274" width="1" height="36" fill="#000"/>
<rect x="837.5" y="289.5" width="4" height="7" fill="#fff" stroke="#000" stroke-width="1"/>
<rect x="847" y="309" width="1" height="11" fill="#000"/>
<rect x="845" y="312" width="5" height="3" fill="#000"/>
<rect x="855" y="308" width="1" height="14" fill="#000"/>
<rect x="853.5" y="309.5" width="4" height="6" fill="#fff" stroke="#000" stroke-width="1"/>
<rect x="863" y="302" width="1" height="39" fill="#000"/>
<rect x="861" y="309" width="5" height="22" fill="#000"/>
<rect x="871" y="289" width="1" height="47" fill="#000"/>
<rect x="869.5" y="315.5" width="4" height="16" fill="#fff" stroke="#000" stroke-width="1"/>
<rect x="879" y="308" width="1" height="25" fill="#000"/>
<rect x="877" y="314" width="5" height="3" fill="#000"/>
<rect x="887" y="307" width="1" height="16" fill="#000"/>
<rect x="885" y="317" width="5" height="3" fill="#000"/>
<rect x="895" y="314" width="1" height="10" fill="#000"/>
<rect x="893.5" y="318.5" width="4" height="2" fill="#fff" stroke="#000" stroke-width="1"/>
<rect x="903" y="307" width="1" height="19" fill="#000"/>
<rect x="901.5" y="307.5" width="4" height="12" fill="#fff" stroke="#000" stroke-width="1"/>
<rect x="911" y="284" width="1" height="57" fill="#000"/>
<rect x="909" y="307" width="5" height="21" fill="#000"/>
<rect x="919" y="310" width="1" height="49" fill="#000"/>
<rect x="917" y="327" width="5" height="26" fill="#000"/>
<rect x="927" y="286" width="1" height="92" fill="#000"/>
<rect x="925.5" y="302.5" width="4" height="50" fill="#fff" stroke="#000" stroke-width="1"/>
<rect x="935" y="297" width="1" height="39" fill="#000"/>
<rect x="933" y="302" width="5" height="3" fill="#000"/>
<rect x="943" y="302" width="1" height="9" fill="#000"/>
<rect x="941" y="303" width="5" height="2" fill="#000"/>
<rect x="951" y="304" width="1" height="18" fill="#000"/>
<rect x="949" y="304" width="5" height="6" fill="#000"/>
<rect x="959" y="260" width="1" height="54" fill="#000"/>
<rect x="957.5" y="302.5" width="4" height="7" fill="#fff" stroke="#000" stroke-width="1"/>
<rect x="967" y="282" width="1" height="43" fill="#000"/>
<rect x="965" y="302" width="5" height="15" fill="#000"/>
<rect x="975" y="231" width="1" height="93" fill="#000"/>
<rect x="973.5" y="231.5" width="4" height="85" fill="#fff" stroke="#000" stroke-width="1"/>
<rect x="983" y="216" width="1" height="37" fill="#000"/>
<rect x="981" y="234" width="5" height="2" fill="#000"/>
<rect x="991" y="230" width="1" height="12" fill="#000"/>
<rect x="989" y="235" width="5" height="2" fill="#000"/>
<rect x="999" y="218" width="1" height="21" fill="#000"/>
<rect x="997.5" y="230.5" width="4" height="6" fill="#fff" stroke="#000" stroke-width="1"/>
<rect x="1007" y="215" width="1" height="37" fill="#000"/>
<rect x="1005" y="229" width="5" height="1" fill="#000"/>
<rect x="1015" y="124" width="1" height="116" fill="#000"/>
<rect x="1013.5" y="165.5" width="4" height="65" fill="#fff" stroke="#000" stroke-width="1"/>
<rect x="1023" y="140" width="1" height="50" fill="#000"/>
<rect x="1021.5" y="143.5" width="4" height="22" fill="#fff" stroke="#000" stroke-width="1"/>
<rect x="1031" y="137" width="1" height="21" fill="#000"/>
<rect x="1029" y="142" width="5" height="9" fill="#000"/>
<rect x="1039" y="143" width="1" height="11" fill="#000"/>
<rect x="1037" y="149" width="5" height="2" fill="#000"/>
<rect x="1047" y="139" width="1" height="17" fill="#000"/>
<rect x="1045.5" y="145.5" width="4" height="4" fill="#fff" stroke="#000" stroke-width="1"/>
<rect x="1055" y="143" width="1" height="25" fill="#000"/>
<rect x="1053" y="146" width="5" height="6" fill="#000"/>
<rect x="1063" y="113" width="1" height="43" fill="#000"/>
<rect x="1061.5" y="118.5" width="4" height="34" fill="#fff" stroke="#000" stroke-width="1"/>
<rect x="1071" y="91" width="1" height="42" fill="#000"/>
<rect x="1069.5" y="99.5" width="4" height="20" fill="#fff" stroke="#000" stroke-width="1"/>
<rect x="1079" y="85" width="1" height="29" fill="#000"/>
<rect x="1077.5" y="87.5" width="4" height="12" fill="#fff" stroke="#000" stroke-width="1"/>
<rect x="1087" y="90" width="1" height="15" fill="#000"/>
<rect x="1085" y="94" width="5" height="4" fill="#000"/>
<rect x="1095" y="84" width="1" height="16" fill="#000"/>
<rect x="1093.5" y="90.5" width="4" height="7" fill="#fff" stroke="#000" stroke-width="1"/>
<rect x="1103" y="78" width="1" height="30" fill="#000"/>
<rect x="1101.5" y="82.5" width="4" height="8" fill="#fff" stroke="#000" stroke-width="1"/>
<rect x="1111" y="57" width="1" height="32" fill="#000"/>
<rect x="1109.5" y="74.5" width="4" height="9" fill="#fff" stroke="#000" stroke-width="1"/>
<rect x="1119" y="66" width="1" height="61" fill="#000"/>
<rect x="1117" y="75" width="5" height="42" fill="#000"/>
<rect x="1127" y="95" width="1" height="22" fill="#000"/>
<rect x="1125.5" y="107.5" width="4" height="8" fill="#fff" stroke="#000" stroke-width="1"/>
<rect x="1135" y="100" width="1" height="11" fill="#000"/>
<rect x="1133.5" y="104.5" width="4" height="3" fill="#fff" stroke="#000" stroke-width="1"/>
<rect x="1143" y="95" width="1" height="17" fill="#000"/>
<rect x="1141" y="104" width="5" height="5" fill="#000"/>
<rect x="1151" y="95" width="1" height="26" fill="#000"/>
<rect x="1149" y="108" width="5" height="9" fill="#000"/>
<rect x="1159" y="110" width="1" height="26" fill="#000"/>
<rect x="1157" y="116" width="5" height="12" fill="#000"/>
<rect x="1167" y="114" width="1" height="40" fill="#000"/>
<rect x="1165" y="127" width="5" height="1" fill="#000"/>
<rect x="1175" y="100" width="1" height="63" fill="#000"/>
<rect x="1173" y="127" width="5" height="12" fill="#000"/>
<rect x="1183" y="138" width="1" height="13" fill="#000"/>
<rect x="1181" y="139" width="5" height="5" fill="#000"/>
<rect x="1191" y="140" width="1" height="24" fill="#000"/>
<rect x="1189" y="142" width="5" height="21" fill="#000"/>
<rect x="1199" y="143" width="1" height="21" fill="#000"/>
<rect x="1197.5" y="150.5" width="4" height="13" fill="#fff" stroke="#000" stroke-width="1"/>
<rect x="1207" y="147" width="1" height="35" fill="#000"/>
<rect x="1205" y="150" width="5" height="14" fill="#000"/>
<rect x="1215" y="149" width="1" height="24" fill="#000"/>
<rect x="1213" y="163" width="5" height="1" fill="#000"/>
<rect x="1223" y="124" width="1" height="40" fill="#000"/>
<rect x="1221.5" y="136.5" width="4" height="27" fill="#fff" stroke="#000" stroke-width="1"/>
<rect x="1231" y="135" width="1" height="7" fill="#000"/>
<rect x="1229" y="135" width="5" height="2" fill="#000"/>
<rect x="1239" y="121" width="1" height="22" fill="#000"/>
<rect x="1237.5" y="130.5" width="4" height="7" fill="#fff" stroke="#000" stroke-width="1"/>
<rect x="1247" y="85" width="1" height="56" fill="#000"/>
<rect x="1245.5" y="112.5" width="4" height="19" fill="#fff" stroke="#000" stroke-width="1"/>
<rect x="1255" y="112" width="1" height="46" fill="#000"/>
<rect x="1253" y="112" width="5" height="45" fill="#000"/>
<rect x="1263" y="101" width="1" height="104" fill="#000"/>
<rect x="1261" y="156" width="5" height="41" fill="#000"/>
<rect x="1271" y="173" width="1" height="31" fill="#000"/>
<rect x="1269.5" y="192.5" width="4" height="3" fill="#fff" stroke="#000" stroke-width="1"/>
<rect x="1279" y="183" width="1" height="11" fill="#000"/>
<rect x="1277.5" y="184.5" width="4" height="7" fill="#fff" stroke="#000" stroke-width="1"/>
<rect x="1287" y="182" width="1" height="4" fill="#000"/>
<rect x="1285" y="183" width="5" height="2" fill="#000"/>
<path d="M1294 30 h11 l-5.5 5.5 z" fill="#c0c0c0" shape-rendering="auto"/>
<rect x="1186" y="158" width="117" height="11" fill="#00ff00"/>
</g>
<rect x="1627" y="101" width="2" height="2" fill="#ff0000"/>
<rect x="1627" y="127" width="2" height="2" fill="#ff0000"/>
<rect x="1627" y="161" width="2" height="2" fill="#00ff00"/>
<rect x="1627" y="229" width="2" height="2" fill="#0000ff"/>
<rect x="1627" y="260" width="2" height="2" fill="#0000ff"/>
<rect x="1621" y="99" width="6" height="6" fill="#ff0000"/><rect x="1623" y="101" width="2" height="2" fill="#fff"/>
<rect x="1621" y="125" width="6" height="6" fill="#ff0000"/><rect x="1623" y="127" width="2" height="2" fill="#fff"/>
<rect x="1621" y="159" width="6" height="6" fill="#00ff00"/><rect x="1623" y="161" width="2" height="2" fill="#fff"/>
<rect x="1621" y="227" width="6" height="6" fill="#0000ff"/><rect x="1623" y="229" width="2" height="2" fill="#fff"/>
<rect x="1621" y="258" width="6" height="6" fill="#0000ff"/><rect x="1623" y="260" width="2" height="2" fill="#fff"/>
<rect x="-2" y="125" width="6" height="6" fill="#ff0000"/><rect x="0" y="127" width="2" height="2" fill="#fff"/>
<rect x="-2" y="159" width="6" height="6" fill="#00ff00"/><rect x="0" y="161" width="2" height="2" fill="#fff"/>
<rect x="-2" y="227" width="6" height="6" fill="#0000ff"/><rect x="0" y="229" width="2" height="2" fill="#fff"/>
<rect x="-2" y="258" width="6" height="6" fill="#0000ff"/><rect x="0" y="260" width="2" height="2" fill="#fff"/>
<g shape-rendering="auto">
<rect x="1628" y="51" width="2" height="1" fill="#000" shape-rendering="crispEdges"/>
<text x="1633.6" y="54.6" font-family="Liberation Sans, sans-serif" font-size="10.0px" fill="#000" textLength="32.2" lengthAdjust="spacingAndGlyphs" >1.11820</text>
<rect x="1628" y="84" width="2" height="1" fill="#000" shape-rendering="crispEdges"/>
<text x="1633.6" y="87.6" font-family="Liberation Sans, sans-serif" font-size="10.0px" fill="#000" textLength="32.2" lengthAdjust="spacingAndGlyphs" >1.11625</text>
<rect x="1628" y="117" width="2" height="1" fill="#000" shape-rendering="crispEdges"/>
<text x="1633.6" y="120.6" font-family="Liberation Sans, sans-serif" font-size="10.0px" fill="#000" textLength="32.2" lengthAdjust="spacingAndGlyphs" >1.11430</text>
<rect x="1628" y="150" width="2" height="1" fill="#000" shape-rendering="crispEdges"/>
<text x="1633.6" y="153.6" font-family="Liberation Sans, sans-serif" font-size="10.0px" fill="#000" textLength="32.2" lengthAdjust="spacingAndGlyphs" >1.11235</text>
<rect x="1628" y="216" width="2" height="1" fill="#000" shape-rendering="crispEdges"/>
<text x="1633.6" y="219.6" font-family="Liberation Sans, sans-serif" font-size="10.0px" fill="#000" textLength="32.2" lengthAdjust="spacingAndGlyphs" >1.10850</text>
<rect x="1628" y="249" width="2" height="1" fill="#000" shape-rendering="crispEdges"/>
<text x="1633.6" y="252.6" font-family="Liberation Sans, sans-serif" font-size="10.0px" fill="#000" textLength="32.2" lengthAdjust="spacingAndGlyphs" >1.10655</text>
<rect x="1628" y="282" width="2" height="1" fill="#000" shape-rendering="crispEdges"/>
<text x="1633.6" y="285.6" font-family="Liberation Sans, sans-serif" font-size="10.0px" fill="#000" textLength="32.2" lengthAdjust="spacingAndGlyphs" >1.10460</text>
<rect x="1628" y="315" width="2" height="1" fill="#000" shape-rendering="crispEdges"/>
<text x="1633.6" y="318.6" font-family="Liberation Sans, sans-serif" font-size="10.0px" fill="#000" textLength="32.2" lengthAdjust="spacingAndGlyphs" >1.10265</text>
<rect x="1628" y="348" width="2" height="1" fill="#000" shape-rendering="crispEdges"/>
<text x="1633.6" y="351.6" font-family="Liberation Sans, sans-serif" font-size="10.0px" fill="#000" textLength="32.2" lengthAdjust="spacingAndGlyphs" >1.10075</text>
<rect x="1628" y="381" width="2" height="1" fill="#000" shape-rendering="crispEdges"/>
<text x="1633.6" y="384.6" font-family="Liberation Sans, sans-serif" font-size="10.0px" fill="#000" textLength="32.2" lengthAdjust="spacingAndGlyphs" >1.09880</text>
<rect x="1628" y="414" width="2" height="1" fill="#000" shape-rendering="crispEdges"/>
<text x="1633.6" y="417.6" font-family="Liberation Sans, sans-serif" font-size="10.0px" fill="#000" textLength="32.2" lengthAdjust="spacingAndGlyphs" >1.09685</text>
<rect x="1628" y="447" width="2" height="1" fill="#000" shape-rendering="crispEdges"/>
<text x="1633.6" y="450.6" font-family="Liberation Sans, sans-serif" font-size="10.0px" fill="#000" textLength="32.2" lengthAdjust="spacingAndGlyphs" >1.09490</text>
<rect x="1628" y="480" width="2" height="1" fill="#000" shape-rendering="crispEdges"/>
<text x="1633.6" y="483.6" font-family="Liberation Sans, sans-serif" font-size="10.0px" fill="#000" textLength="32.2" lengthAdjust="spacingAndGlyphs" >1.09295</text>
<rect x="1628" y="513" width="2" height="1" fill="#000" shape-rendering="crispEdges"/>
<text x="1633.6" y="516.6" font-family="Liberation Sans, sans-serif" font-size="10.0px" fill="#000" textLength="32.2" lengthAdjust="spacingAndGlyphs" >1.09100</text>
<rect x="1628" y="546" width="2" height="1" fill="#000" shape-rendering="crispEdges"/>
<text x="1633.6" y="549.6" font-family="Liberation Sans, sans-serif" font-size="10.0px" fill="#000" textLength="32.2" lengthAdjust="spacingAndGlyphs" >1.08910</text>
<rect x="1628" y="579" width="2" height="1" fill="#000" shape-rendering="crispEdges"/>
<text x="1633.6" y="582.6" font-family="Liberation Sans, sans-serif" font-size="10.0px" fill="#000" textLength="32.2" lengthAdjust="spacingAndGlyphs" >1.08715</text>
<rect x="1629" y="96" width="41" height="11" fill="#ff0000" shape-rendering="crispEdges"/>
<text x="1633.6" y="105.0" font-family="Liberation Sans, sans-serif" font-size="10.0px" fill="#fff" textLength="32.2" lengthAdjust="spacingAndGlyphs" >1.11517</text>
<rect x="1629" y="122" width="41" height="11" fill="#ff0000" shape-rendering="crispEdges"/>
<text x="1633.6" y="131.0" font-family="Liberation Sans, sans-serif" font-size="10.0px" fill="#fff" textLength="32.2" lengthAdjust="spacingAndGlyphs" >1.11365</text>
<rect x="1629" y="156" width="41" height="11" fill="#00ff00" shape-rendering="crispEdges"/>
<text x="1633.6" y="165.0" font-family="Liberation Sans, sans-serif" font-size="10.0px" fill="#fff" textLength="32.2" lengthAdjust="spacingAndGlyphs" >1.11165</text>
<rect x="1629" y="178" width="41" height="11" fill="#000000" shape-rendering="crispEdges"/>
<text x="1633.6" y="187.0" font-family="Liberation Sans, sans-serif" font-size="10.0px" fill="#fff" textLength="32.2" lengthAdjust="spacingAndGlyphs" >1.11044</text>
<rect x="1629" y="225" width="41" height="11" fill="#0000ff" shape-rendering="crispEdges"/>
<text x="1633.6" y="234.0" font-family="Liberation Sans, sans-serif" font-size="10.0px" fill="#fff" textLength="32.2" lengthAdjust="spacingAndGlyphs" >1.10766</text>
<rect x="1629" y="255" width="41" height="11" fill="#0000ff" shape-rendering="crispEdges"/>
<text x="1633.6" y="264.0" font-family="Liberation Sans, sans-serif" font-size="10.0px" fill="#fff" textLength="32.2" lengthAdjust="spacingAndGlyphs" >1.10584</text>
<text x="1631.6" y="595.8" font-family="Liberation Sans, sans-serif" font-size="10.0px" fill="#000" textLength="37.1" lengthAdjust="spacingAndGlyphs" >0.003725</text>
<text x="1631.6" y="692.8" font-family="Liberation Sans, sans-serif" font-size="10.0px" fill="#000" textLength="17.5" lengthAdjust="spacingAndGlyphs" >0.00</text>
<text x="1631.6" y="764.0" font-family="Liberation Sans, sans-serif" font-size="10.0px" fill="#000" textLength="40.4" lengthAdjust="spacingAndGlyphs" >-0.002794</text>
<rect x="1628" y="689" width="2" height="1" fill="#000" shape-rendering="crispEdges"/>
<text x="1631.3" y="780.2" font-family="Liberation Sans, sans-serif" font-size="10.0px" fill="#000" textLength="14.7" lengthAdjust="spacingAndGlyphs" >100</text>
<text x="1631.3" y="806.1" font-family="Liberation Sans, sans-serif" font-size="10.0px" fill="#000" textLength="9.8" lengthAdjust="spacingAndGlyphs" >80</text>
<text x="1631.3" y="853.1" font-family="Liberation Sans, sans-serif" font-size="10.0px" fill="#000" textLength="9.8" lengthAdjust="spacingAndGlyphs" >50</text>
<text x="1631.3" y="909.1" font-family="Liberation Sans, sans-serif" font-size="10.0px" fill="#000" textLength="9.8" lengthAdjust="spacingAndGlyphs" >15</text>
<text x="1631.3" y="926.2" font-family="Liberation Sans, sans-serif" font-size="10.0px" fill="#000" textLength="4.9" lengthAdjust="spacingAndGlyphs" >0</text>
<text x="14.3" y="40.6" font-family="Liberation Sans, sans-serif" font-size="10.0px" fill="#000" textLength="203.7" lengthAdjust="spacingAndGlyphs" xml:space="preserve">EURUSD-,H4  1.11038 1.11048 1.11033 1.11044</text>
<path d="M2 39.5 L5.5 35.5 L9 39.5 Z" fill="#000"/>
<text x="3.5" y="597.0" font-family="Liberation Sans, sans-serif" font-size="10.0px" fill="#000" textLength="150.3" lengthAdjust="spacingAndGlyphs" >MACD(12,26,9) -0.000235 0.000348</text>
<text x="3.2" y="782.0" font-family="Liberation Sans, sans-serif" font-size="10.0px" fill="#000" textLength="67.6" lengthAdjust="spacingAndGlyphs" >RSI(14) 43.2012</text>
<rect x="-1" y="930" width="1" height="3" fill="#000" shape-rendering="crispEdges"/>
<text x="-0.8" y="942.0" font-family="Liberation Sans, sans-serif" font-size="10.0px" fill="#000" textLength="51.6" lengthAdjust="spacingAndGlyphs" >18 Sep 2019</text>
<rect x="63" y="930" width="1" height="3" fill="#000" shape-rendering="crispEdges"/>
<text x="63.2" y="942.0" font-family="Liberation Sans, sans-serif" font-size="10.0px" fill="#000" textLength="54.8" lengthAdjust="spacingAndGlyphs" >19 Sep 12:00</text>
<rect x="127" y="930" width="1" height="3" fill="#000" shape-rendering="crispEdges"/>
<text x="127.2" y="942.0" font-family="Liberation Sans, sans-serif" font-size="10.0px" fill="#000" textLength="54.8" lengthAdjust="spacingAndGlyphs" >22 Sep 23:00</text>
<rect x="191" y="930" width="1" height="3" fill="#000" shape-rendering="crispEdges"/>
<text x="191.2" y="942.0" font-family="Liberation Sans, sans-serif" font-size="10.0px" fill="#000" textLength="54.8" lengthAdjust="spacingAndGlyphs" >24 Sep 04:00</text>
<rect x="255" y="930" width="1" height="3" fill="#000" shape-rendering="crispEdges"/>
<text x="255.2" y="942.0" font-family="Liberation Sans, sans-serif" font-size="10.0px" fill="#000" textLength="54.8" lengthAdjust="spacingAndGlyphs" >25 Sep 12:00</text>
<rect x="319" y="930" width="1" height="3" fill="#000" shape-rendering="crispEdges"/>
<text x="319.2" y="942.0" font-family="Liberation Sans, sans-serif" font-size="10.0px" fill="#000" textLength="54.8" lengthAdjust="spacingAndGlyphs" >26 Sep 20:00</text>
<rect x="383" y="930" width="1" height="3" fill="#000" shape-rendering="crispEdges"/>
<text x="383.2" y="942.0" font-family="Liberation Sans, sans-serif" font-size="10.0px" fill="#000" textLength="54.8" lengthAdjust="spacingAndGlyphs" >30 Sep 04:00</text>
<rect x="447" y="930" width="1" height="3" fill="#000" shape-rendering="crispEdges"/>
<text x="447.2" y="942.0" font-family="Liberation Sans, sans-serif" font-size="10.0px" fill="#000" textLength="48.5" lengthAdjust="spacingAndGlyphs" >1 Oct 12:00</text>
<rect x="511" y="930" width="1" height="3" fill="#000" shape-rendering="crispEdges"/>
<text x="511.2" y="942.0" font-family="Liberation Sans, sans-serif" font-size="10.0px" fill="#000" textLength="48.5" lengthAdjust="spacingAndGlyphs" >2 Oct 20:00</text>
<rect x="575" y="930" width="1" height="3" fill="#000" shape-rendering="crispEdges"/>
<text x="575.2" y="942.0" font-family="Liberation Sans, sans-serif" font-size="10.0px" fill="#000" textLength="48.5" lengthAdjust="spacingAndGlyphs" >4 Oct 04:00</text>
<rect x="639" y="930" width="1" height="3" fill="#000" shape-rendering="crispEdges"/>
<text x="639.2" y="942.0" font-family="Liberation Sans, sans-serif" font-size="10.0px" fill="#000" textLength="48.5" lengthAdjust="spacingAndGlyphs" >7 Oct 12:00</text>
<rect x="703" y="930" width="1" height="3" fill="#000" shape-rendering="crispEdges"/>
<text x="703.2" y="942.0" font-family="Liberation Sans, sans-serif" font-size="10.0px" fill="#000" textLength="48.5" lengthAdjust="spacingAndGlyphs" >8 Oct 20:00</text>
<rect x="767" y="930" width="1" height="3" fill="#000" shape-rendering="crispEdges"/>
<text x="767.2" y="942.0" font-family="Liberation Sans, sans-serif" font-size="10.0px" fill="#000" textLength="53.4" lengthAdjust="spacingAndGlyphs" >10 Oct 04:00</text>
<rect x="831" y="930" width="1" height="3" fill="#000" shape-rendering="crispEdges"/>
<text x="831.2" y="942.0" font-family="Liberation Sans, sans-serif" font-size="10.0px" fill="#000" textLength="53.4" lengthAdjust="spacingAndGlyphs" >11 Oct 12:00</text>
<rect x="895" y="930" width="1" height="3" fill="#000" shape-rendering="crispEdges"/>
<text x="895.2" y="942.0" font-family="Liberation Sans, sans-serif" font-size="10.0px" fill="#000" textLength="53.4" lengthAdjust="spacingAndGlyphs" >14 Oct 20:00</text>
<rect x="959" y="930" width="1" height="3" fill="#000" shape-rendering="crispEdges"/>
<text x="959.2" y="942.0" font-family="Liberation Sans, sans-serif" font-size="10.0px" fill="#000" textLength="53.4" lengthAdjust="spacingAndGlyphs" >16 Oct 04:00</text>
<rect x="1023" y="930" width="1" height="3" fill="#000" shape-rendering="crispEdges"/>
<text x="1023.2" y="942.0" font-family="Liberation Sans, sans-serif" font-size="10.0px" fill="#000" textLength="53.4" lengthAdjust="spacingAndGlyphs" >17 Oct 12:00</text>
<rect x="1087" y="930" width="1" height="3" fill="#000" shape-rendering="crispEdges"/>
<text x="1087.2" y="942.0" font-family="Liberation Sans, sans-serif" font-size="10.0px" fill="#000" textLength="53.4" lengthAdjust="spacingAndGlyphs" >20 Oct 23:00</text>
<rect x="1151" y="930" width="1" height="3" fill="#000" shape-rendering="crispEdges"/>
<text x="1151.2" y="942.0" font-family="Liberation Sans, sans-serif" font-size="10.0px" fill="#000" textLength="53.4" lengthAdjust="spacingAndGlyphs" >22 Oct 04:00</text>
<rect x="1215" y="930" width="1" height="3" fill="#000" shape-rendering="crispEdges"/>
<text x="1215.2" y="942.0" font-family="Liberation Sans, sans-serif" font-size="10.0px" fill="#000" textLength="53.4" lengthAdjust="spacingAndGlyphs" >23 Oct 12:00</text>
<rect x="1279" y="930" width="1" height="3" fill="#000" shape-rendering="crispEdges"/>
<text x="1279.2" y="942.0" font-family="Liberation Sans, sans-serif" font-size="10.0px" fill="#000" textLength="53.4" lengthAdjust="spacingAndGlyphs" >24 Oct 20:00</text>
</g>
<clipPath id="c2"><rect x="0" y="585" width="1627" height="182"/></clipPath><g clip-path="url(#c2)">
<rect x="7" y="679" width="1" height="11" fill="#c0c0c0"/>
<rect x="15" y="677" width="1" height="13" fill="#c0c0c0"/>
<rect x="23" y="682" width="1" height="8" fill="#c0c0c0"/>
<rect x="31" y="687" width="1" height="3" fill="#c0c0c0"/>
<rect x="47" y="688" width="1" height="2" fill="#c0c0c0"/>
<rect x="55" y="683" width="1" height="7" fill="#c0c0c0"/>
<rect x="63" y="684" width="1" height="6" fill="#c0c0c0"/>
<rect x="71" y="686" width="1" height="4" fill="#c0c0c0"/>
<rect x="79" y="686" width="1" height="4" fill="#c0c0c0"/>
<rect x="87" y="686" width="1" height="4" fill="#c0c0c0"/>
<rect x="95" y="686" width="1" height="4" fill="#c0c0c0"/>
<rect x="111" y="689" width="1" height="9" fill="#c0c0c0"/>
<rect x="119" y="689" width="1" height="14" fill="#c0c0c0"/>
<rect x="127" y="689" width="1" height="16" fill="#c0c0c0"/>
<rect x="135" y="689" width="1" height="18" fill="#c0c0c0"/>
<rect x="143" y="689" width="1" height="30" fill="#c0c0c0"/>
<rect x="151" y="689" width="1" height="36" fill="#c0c0c0"/>
<rect x="159" y="689" width="1" height="39" fill="#c0c0c0"/>
<rect x="167" y="689" width="1" height="40" fill="#c0c0c0"/>
<rect x="175" y="689" width="1" height="40" fill="#c0c0c0"/>
<rect x="183" y="689" width="1" height="41" fill="#c0c0c0"/>
<rect x="191" y="689" width="1" height="42" fill="#c0c0c0"/>
<rect x="199" y="689" width="1" height="39" fill="#c0c0c0"/>
<rect x="207" y="689" width="1" height="37" fill="#c0c0c0"/>
<rect x="215" y="689" width="1" height="31" fill="#c0c0c0"/>
<rect x="223" y="689" width="1" height="26" fill="#c0c0c0"/>
<rect x="231" y="689" width="1" height="25" fill="#c0c0c0"/>
<rect x="239" y="689" width="1" height="25" fill="#c0c0c0"/>
<rect x="247" y="689" width="1" height="28" fill="#c0c0c0"/>
<rect x="255" y="689" width="1" height="37" fill="#c0c0c0"/>
<rect x="263" y="689" width="1" height="45" fill="#c0c0c0"/>
<rect x="271" y="689" width="1" height="49" fill="#c0c0c0"/>
<rect x="279" y="689" width="1" height="49" fill="#c0c0c0"/>
<rect x="287" y="689" width="1" height="53" fill="#c0c0c0"/>
<rect x="295" y="689" width="1" height="58" fill="#c0c0c0"/>
<rect x="303" y="689" width="1" height="60" fill="#c0c0c0"/>
<rect x="311" y="689" width="1" height="65" fill="#c0c0c0"/>
<rect x="319" y="689" width="1" height="66" fill="#c0c0c0"/>
<rect x="327" y="689" width="1" height="68" fill="#c0c0c0"/>
<rect x="335" y="689" width="1" height="69" fill="#c0c0c0"/>
<rect x="343" y="689" width="1" height="66" fill="#c0c0c0"/>
<rect x="351" y="689" width="1" height="61" fill="#c0c0c0"/>
<rect x="359" y="689" width="1" height="56" fill="#c0c0c0"/>
<rect x="367" y="689" width="1" height="52" fill="#c0c0c0"/>
<rect x="375" y="689" width="1" height="50" fill="#c0c0c0"/>
<rect x="383" y="689" width="1" height="47" fill="#c0c0c0"/>
<rect x="391" y="689" width="1" height="50" fill="#c0c0c0"/>
<rect x="399" y="689" width="1" height="53" fill="#c0c0c0"/>
<rect x="407" y="689" width="1" height="55" fill="#c0c0c0"/>
<rect x="415" y="689" width="1" height="57" fill="#c0c0c0"/>
<rect x="423" y="689" width="1" height="61" fill="#c0c0c0"/>
<rect x="431" y="689" width="1" height="62" fill="#c0c0c0"/>
<rect x="439" y="689" width="1" height="61" fill="#c0c0c0"/>
<rect x="447" y="689" width="1" height="51" fill="#c0c0c0"/>
<rect x="455" y="689" width="1" height="42" fill="#c0c0c0"/>
<rect x="463" y="689" width="1" height="35" fill="#c0c0c0"/>
<rect x="471" y="689" width="1" height="29" fill="#c0c0c0"/>
<rect x="479" y="689" width="1" height="27" fill="#c0c0c0"/>
<rect x="487" y="689" width="1" height="23" fill="#c0c0c0"/>
<rect x="495" y="689" width="1" height="16" fill="#c0c0c0"/>
<rect x="503" y="689" width="1" height="7" fill="#c0c0c0"/>
<rect x="519" y="686" width="1" height="4" fill="#c0c0c0"/>
<rect x="527" y="685" width="1" height="5" fill="#c0c0c0"/>
<rect x="535" y="682" width="1" height="8" fill="#c0c0c0"/>
<rect x="543" y="672" width="1" height="18" fill="#c0c0c0"/>
<rect x="551" y="669" width="1" height="21" fill="#c0c0c0"/>
<rect x="559" y="666" width="1" height="24" fill="#c0c0c0"/>
<rect x="567" y="663" width="1" height="27" fill="#c0c0c0"/>
<rect x="575" y="662" width="1" height="28" fill="#c0c0c0"/>
<rect x="583" y="660" width="1" height="30" fill="#c0c0c0"/>
<rect x="591" y="660" width="1" height="30" fill="#c0c0c0"/>
<rect x="599" y="658" width="1" height="32" fill="#c0c0c0"/>
<rect x="607" y="657" width="1" height="33" fill="#c0c0c0"/>
<rect x="615" y="658" width="1" height="32" fill="#c0c0c0"/>
<rect x="623" y="659" width="1" height="31" fill="#c0c0c0"/>
<rect x="631" y="659" width="1" height="31" fill="#c0c0c0"/>
<rect x="639" y="659" width="1" height="31" fill="#c0c0c0"/>
<rect x="647" y="662" width="1" height="28" fill="#c0c0c0"/>
<rect x="655" y="665" width="1" height="25" fill="#c0c0c0"/>
<rect x="663" y="667" width="1" height="23" fill="#c0c0c0"/>
<rect x="671" y="668" width="1" height="22" fill="#c0c0c0"/>
<rect x="679" y="667" width="1" height="23" fill="#c0c0c0"/>
<rect x="687" y="675" width="1" height="15" fill="#c0c0c0"/>
<rect x="695" y="680" width="1" height="10" fill="#c0c0c0"/>
<rect x="703" y="683" width="1" height="7" fill="#c0c0c0"/>
<rect x="711" y="685" width="1" height="5" fill="#c0c0c0"/>
<rect x="719" y="683" width="1" height="7" fill="#c0c0c0"/>
<rect x="727" y="681" width="1" height="9" fill="#c0c0c0"/>
<rect x="735" y="680" width="1" height="10" fill="#c0c0c0"/>
<rect x="743" y="680" width="1" height="10" fill="#c0c0c0"/>
<rect x="751" y="678" width="1" height="12" fill="#c0c0c0"/>
<rect x="759" y="676" width="1" height="14" fill="#c0c0c0"/>
<rect x="767" y="668" width="1" height="22" fill="#c0c0c0"/>
<rect x="775" y="661" width="1" height="29" fill="#c0c0c0"/>
<rect x="783" y="657" width="1" height="33" fill="#c0c0c0"/>
<rect x="791" y="656" width="1" height="34" fill="#c0c0c0"/>
<rect x="799" y="655" width="1" height="35" fill="#c0c0c0"/>
<rect x="807" y="654" width="1" height="36" fill="#c0c0c0"/>
<rect x="815" y="654" width="1" height="36" fill="#c0c0c0"/>
<rect x="823" y="645" width="1" height="45" fill="#c0c0c0"/>
<rect x="831" y="642" width="1" height="48" fill="#c0c0c0"/>
<rect x="839" y="640" width="1" height="50" fill="#c0c0c0"/>
<rect x="847" y="641" width="1" height="49" fill="#c0c0c0"/>
<rect x="855" y="642" width="1" height="48" fill="#c0c0c0"/>
<rect x="863" y="646" width="1" height="44" fill="#c0c0c0"/>
<rect x="871" y="649" width="1" height="41" fill="#c0c0c0"/>
<rect x="879" y="651" width="1" height="39" fill="#c0c0c0"/>
<rect x="887" y="653" width="1" height="37" fill="#c0c0c0"/>
<rect x="895" y="656" width="1" height="34" fill="#c0c0c0"/>
<rect x="903" y="656" width="1" height="34" fill="#c0c0c0"/>
<rect x="911" y="660" width="1" height="30" fill="#c0c0c0"/>
<rect x="919" y="666" width="1" height="24" fill="#c0c0c0"/>
<rect x="927" y="665" width="1" height="25" fill="#c0c0c0"/>
<rect x="935" y="664" width="1" height="26" fill="#c0c0c0"/>
<rect x="943" y="664" width="1" height="26" fill="#c0c0c0"/>
<rect x="951" y="665" width="1" height="25" fill="#c0c0c0"/>
<rect x="959" y="665" width="1" height="25" fill="#c0c0c0"/>
<rect x="967" y="667" width="1" height="23" fill="#c0c0c0"/>
<rect x="975" y="658" width="1" height="32" fill="#c0c0c0"/>
<rect x="983" y="652" width="1" height="38" fill="#c0c0c0"/>
<rect x="991" y="648" width="1" height="42" fill="#c0c0c0"/>
<rect x="999" y="644" width="1" height="46" fill="#c0c0c0"/>
<rect x="1007" y="642" width="1" height="48" fill="#c0c0c0"/>
<rect x="1015" y="632" width="1" height="58" fill="#c0c0c0"/>
<rect x="1023" y="622" width="1" height="68" fill="#c0c0c0"/>
<rect x="1031" y="616" width="1" height="74" fill="#c0c0c0"/>
<rect x="1039" y="612" width="1" height="78" fill="#c0c0c0"/>
<rect x="1047" y="609" width="1" height="81" fill="#c0c0c0"/>
<rect x="1055" y="609" width="1" height="81" fill="#c0c0c0"/>
<rect x="1063" y="605" width="1" height="85" fill="#c0c0c0"/>
<rect x="1071" y="601" width="1" height="89" fill="#c0c0c0"/>
<rect x="1079" y="597" width="1" height="93" fill="#c0c0c0"/>
<rect x="1087" y="596" width="1" height="94" fill="#c0c0c0"/>
<rect x="1095" y="595" width="1" height="95" fill="#c0c0c0"/>
<rect x="1103" y="595" width="1" height="95" fill="#c0c0c0"/>
<rect x="1111" y="595" width="1" height="95" fill="#c0c0c0"/>
<rect x="1119" y="601" width="1" height="89" fill="#c0c0c0"/>
<rect x="1127" y="606" width="1" height="84" fill="#c0c0c0"/>
<rect x="1135" y="610" width="1" height="80" fill="#c0c0c0"/>
<rect x="1143" y="615" width="1" height="75" fill="#c0c0c0"/>
<rect x="1151" y="621" width="1" height="69" fill="#c0c0c0"/>
<rect x="1159" y="628" width="1" height="62" fill="#c0c0c0"/>
<rect x="1167" y="634" width="1" height="56" fill="#c0c0c0"/>
<rect x="1175" y="640" width="1" height="50" fill="#c0c0c0"/>
<rect x="1183" y="647" width="1" height="43" fill="#c0c0c0"/>
<rect x="1191" y="655" width="1" height="35" fill="#c0c0c0"/>
<rect x="1199" y="660" width="1" height="30" fill="#c0c0c0"/>
<rect x="1207" y="665" width="1" height="25" fill="#c0c0c0"/>
<rect x="1215" y="670" width="1" height="20" fill="#c0c0c0"/>
<rect x="1223" y="671" width="1" height="19" fill="#c0c0c0"/>
<rect x="1231" y="672" width="1" height="18" fill="#c0c0c0"/>
<rect x="1239" y="672" width="1" height="18" fill="#c0c0c0"/>
<rect x="1247" y="670" width="1" height="20" fill="#c0c0c0"/>
<rect x="1255" y="674" width="1" height="16" fill="#c0c0c0"/>
<rect x="1263" y="683" width="1" height="7" fill="#c0c0c0"/>
<rect x="1279" y="689" width="1" height="4" fill="#c0c0c0"/>
<rect x="1287" y="689" width="1" height="6" fill="#c0c0c0"/>
<polyline fill="none" stroke="#ff0000" stroke-width="1" stroke-dasharray="3 3" points="0.0,693.4 7.5,691.0 15.6,689.1 23.5,685.5 31.5,683.1 39.4,682.6 47.5,682.6 55.4,682.6 63.5,682.6 71.6,683.5 79.4,684.5 87.5,685.5 95.4,685.5 103.5,685.5 111.6,686.5 119.5,688.9 127.5,691.4 135.4,692.8 143.5,697.3 151.4,701.3 159.5,707.2 167.6,712.1 175.4,716.1 183.5,719.6 191.4,723.6 199.5,725.5 207.6,727.3 215.5,727.5 223.5,726.3 231.4,724.9 239.5,723.6 247.4,722.4 255.5,721.8 263.6,722.4 271.5,723.4 279.5,724.9 287.4,727.5 295.5,730.9 303.6,734.4 311.5,738.7 319.6,743.1 323.0,744.6 327.5,747.0 335.6,749.2 343.5,751.5 351.5,752.5 359.4,752.5 367.5,752.1 375.4,751.0 383.5,749.6 391.6,747.0 399.4,744.6 407.5,743.7 415.4,743.5 423.5,743.5 431.6,743.7 439.5,744.3 447.5,744.5 455.4,744.3 463.5,742.1 471.4,739.7 479.5,736.4 487.6,733.4 493.5,729.9 503.5,720.4 511.4,715.1 519.5,709.8 527.6,703.3 535.5,698.9 543.5,693.8 551.4,687.5 559.5,682.6 567.4,678.2 575.5,674.3 583.6,670.3 591.5,668.2 599.5,665.8 607.4,662.2 615.5,660.5 623.6,659.3 631.5,659.1 639.6,658.7 647.5,658.7 655.6,659.3 663.5,660.5 671.5,661.5 679.4,662.4 687.5,663.8 695.4,666.4 703.5,668.4 711.6,671.3 719.4,674.3 727.5,675.7 735.4,677.0 743.5,678.4 751.6,680.0 759.5,680.2 767.5,678.6 775.4,676.2 783.5,673.7 791.4,670.3 799.5,667.2 807.6,664.8 815.4,660.9 823.5,657.3 831.4,654.4 839.5,650.6 847.6,648.1 855.5,647.5 863.5,646.5 871.4,645.7 879.5,645.5 887.4,645.5 895.5,646.3 903.6,647.7 911.5,650.4 919.5,652.4 927.4,655.5 935.5,657.5 943.6,658.5 951.5,659.9 959.6,660.9 967.5,663.4 975.6,663.4 983.5,662.2 991.5,660.3 999.4,657.9 1007.5,655.3 1015.4,652.4 1023.5,647.5 1031.6,641.2 1039.4,635.6 1047.5,630.9 1055.4,625.0 1063.5,620.8 1071.6,615.5 1079.5,610.0 1087.5,606.3 1095.4,603.7 1103.5,601.7 1111.4,599.2 1119.5,598.4 1127.6,598.4 1135.4,598.4 1143.5,600.2 1151.4,602.7 1159.5,606.7 1167.6,611.6 1175.5,616.5 1183.5,620.8 1191.4,626.8 1199.5,633.3 1207.4,639.2 1215.5,646.1 1223.6,652.0 1231.5,656.3 1239.5,660.3 1247.4,664.2 1255.5,667.8 1263.6,670.7 1271.5,672.7 1279.6,676.2 1287.4,679.2"/>
</g>
<clipPath id="c3"><rect x="0" y="770" width="1627" height="159"/></clipPath><g clip-path="url(#c3)">
<line x1="0" y1="802.5" x2="1627" y2="802.5" stroke="#c0c0c0" stroke-width="1" stroke-dasharray="3 3"/>
<line x1="0" y1="849.5" x2="1627" y2="849.5" stroke="#c0c0c0" stroke-width="1" stroke-dasharray="3 3"/>
<line x1="0" y1="905.5" x2="1627" y2="905.5" stroke="#c0c0c0" stroke-width="1" stroke-dasharray="3 3"/>
<polyline fill="none" stroke="#1e90ff" stroke-width="1"  points="-0.5,845.3 7.5,847.5 15.5,843.0 23.5,855.3 31.5,857.6 39.5,853.6 47.5,846.3 55.5,839.5 63.5,849.3 71.5,850.3 79.5,850.0 87.5,845.3 95.5,848.8 103.5,856.3 111.5,868.4 119.5,861.3 127.5,860.3 135.5,857.1 143.5,876.4 151.5,868.4 159.5,865.1 167.5,862.3 175.5,863.3 183.5,865.3 191.5,866.6 199.5,857.1 207.5,859.6 215.5,849.3 223.5,851.3 231.5,856.3 239.5,859.8 247.5,867.1 255.5,877.9 263.5,879.4 271.5,875.9 279.5,868.9 287.5,874.6 295.5,878.4 303.5,874.4 311.5,881.7 319.5,878.4 327.5,876.4 335.5,878.4 343.5,866.4 351.5,863.3 359.5,863.3 367.5,861.3 375.5,866.4 383.5,864.3 391.5,876.4 399.5,878.4 407.5,879.4 415.5,880.4 423.5,884.2 431.5,884.4 439.5,873.4 447.5,850.3 455.5,847.5 463.5,848.8 471.5,847.5 479.5,858.3 487.5,850.8 495.5,839.5 503.5,834.2 511.5,835.5 519.5,838.3 527.5,846.5 535.5,839.0 543.5,825.5 551.5,837.2 559.5,835.2 567.5,834.2 575.5,838.3 583.5,833.5 591.5,839.5 599.5,834.7 607.5,834.2 615.5,836.2 623.5,842.5 631.5,834.2 639.5,836.2 647.5,844.0 655.5,845.5 663.5,843.5 671.5,840.0 679.5,835.2 687.5,861.3 695.5,856.3 703.5,852.8 711.5,850.8 719.5,842.5 727.5,842.5 735.5,843.5 743.5,844.5 751.5,839.5 759.5,835.7 767.5,821.9 775.5,818.2 783.5,824.5 791.5,831.2 799.5,831.2 807.5,828.2 815.5,832.2 823.5,813.2 831.5,825.4 839.5,824.5 847.5,834.5 855.5,833.5 863.5,842.6 871.5,837.5 879.5,837.5 887.5,839.5 895.5,838.3 903.5,835.2 911.5,844.5 919.5,854.3 927.5,837.2 935.5,838.5 943.5,837.5 951.5,840.5 959.5,838.5 967.5,844.0 975.5,820.4 983.5,821.9 991.5,823.4 999.5,821.4 1007.5,821.2 1015.5,808.6 1023.5,805.1 1031.5,809.1 1039.5,809.1 1047.5,808.1 1055.5,811.2 1063.5,807.1 1071.5,803.6 1079.5,801.1 1087.5,807.1 1095.5,805.6 1103.5,804.4 1111.5,803.1 1119.5,826.2 1127.5,824.2 1135.5,823.2 1143.5,825.2 1151.5,829.7 1159.5,835.2 1167.5,835.7 1175.5,841.5 1183.5,844.5 1191.5,853.3 1199.5,847.5 1207.5,852.3 1215.5,853.6 1223.5,841.5 1231.5,842.5 1239.5,839.5 1247.5,831.2 1255.5,852.8 1263.5,866.4 1271.5,864.6 1279.5,861.8 1287.5,860.3"/>
</g>
<g shape-rendering="auto">
<rect x="1440" y="162" width="8" height="1" fill="#ff0000" shape-rendering="crispEdges"/><rect x="1447.5" y="160.5" width="3" height="4" fill="#fff" stroke="#ff0000" stroke-width="1" shape-rendering="crispEdges"/>
<rect x="1450.5" y="146.5" width="99" height="32" fill="#fff" stroke="#ff0000" stroke-width="1" shape-rendering="crispEdges"/>
<text x="1453.8" y="173" font-family="Liberation Sans, sans-serif" font-size="27.5px" fill="#ff0000" textLength="93.5" lengthAdjust="spacingAndGlyphs">1.11165</text>
<text x="1438.8" y="298.8" font-family="Liberation Serif, Noto Serif CJK SC, serif" font-weight="600" font-size="30px" fill="#004c00" letter-spacing="2.3">多空转折点</text>
<text x="1437.6" y="297.6" font-family="Liberation Serif, Noto Serif CJK SC, serif" font-weight="600" font-size="30px" fill="#00ff00" letter-spacing="2.3">多空转折点</text>
</g>
</svg>
<svg width="230" height="72" viewBox="0 46 230 72" style="position:absolute;left:0;top:46px">
<defs><linearGradient id="pr" x1="0" y1="49" x2="0" y2="113" gradientUnits="userSpaceOnUse"><stop offset="0" stop-color="#fb4c4c"/><stop offset="0.38" stop-color="#dc2a2a"/><stop offset="1" stop-color="#b00404"/></linearGradient></defs>
<path d="M2.5 49.5 H53.5 V73.5 H110.5 V112.5 H2.5 Z" fill="url(#pr)" stroke="#c80c0c" stroke-width="1"/>
<path d="M113.5 73.5 H169.5 V49.5 H220.5 V112.5 H113.5 Z" fill="url(#pr)" stroke="#c80c0c" stroke-width="1"/>
<rect x="6" y="72" width="44" height="1" fill="#a80808"/><rect x="6" y="73" width="44" height="1" fill="#f06060"/>
<rect x="173" y="72" width="44" height="1" fill="#a80808"/><rect x="173" y="73" width="44" height="1" fill="#f06060"/>
<text x="14.4" y="64.8" font-family="Liberation Sans, sans-serif" font-size="11.6px" fill="#fff" textLength="25.3" lengthAdjust="spacingAndGlyphs">SELL</text>
<text x="182.3" y="64.8" font-family="Liberation Sans, sans-serif" font-size="11.6px" fill="#fff" textLength="23.5" lengthAdjust="spacingAndGlyphs">BUY</text>
<rect x="56.5" y="49.5" width="110" height="21" fill="#fff" stroke="#a8a8b0" stroke-width="1"/>
<rect x="57" y="50" width="20" height="20" fill="#ebebeb"/><rect x="77" y="50" width="1" height="20" fill="#b8b8c0"/>
<rect x="146" y="50" width="20" height="20" fill="#ebebeb"/><rect x="145" y="50" width="1" height="20" fill="#b8b8c0"/>
<path d="M64 58.2 h5.4 l-2.7 2.8 z" fill="#000"/><path d="M153 61 h5.4 l-2.7 -2.8 z" fill="#000"/>
<text x="142.3" y="64.3" text-anchor="end" font-family="Liberation Sans, sans-serif" font-size="12.6px" fill="#000">1.00</text>
<text x="22.9" y="104" font-family="Liberation Sans, sans-serif" font-weight="bold" font-size="12px" fill="#fff" textLength="21.5" lengthAdjust="spacingAndGlyphs">1.11</text>
<text x="50.0" y="104.4" font-family="Liberation Sans, sans-serif" font-size="34px" fill="#fff" textLength="34.6" lengthAdjust="spacingAndGlyphs">04</text>
<text x="89.0" y="87.8" font-family="Liberation Sans, sans-serif" font-weight="bold" font-size="12px" fill="#fff">4</text>
<text x="132.6" y="104" font-family="Liberation Sans, sans-serif" font-weight="bold" font-size="12px" fill="#fff" textLength="21.5" lengthAdjust="spacingAndGlyphs">1.11</text>
<text x="160.4" y="104.4" font-family="Liberation Sans, sans-serif" font-size="34px" fill="#fff" textLength="34.6" lengthAdjust="spacingAndGlyphs">06</text>
<text x="200.0" y="87.8" font-family="Liberation Sans, sans-serif" font-weight="bold" font-size="12px" fill="#fff">4</text>
</svg>
</body></html>
